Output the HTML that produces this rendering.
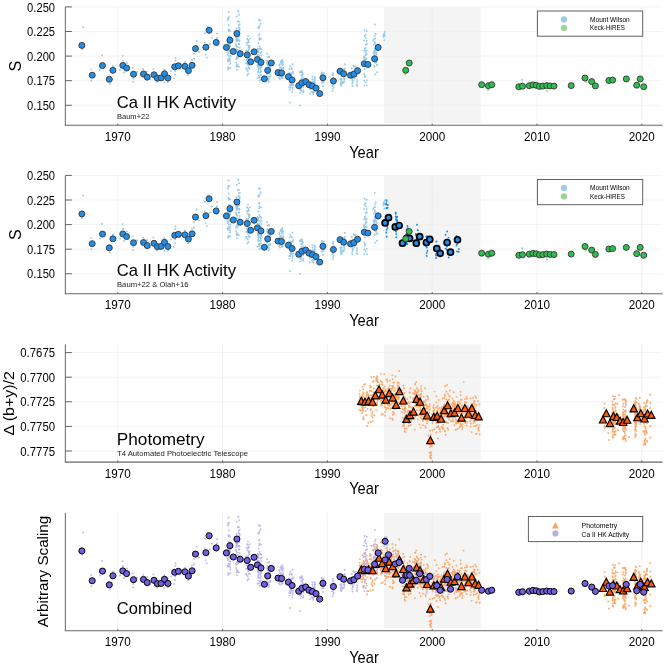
<!DOCTYPE html>
<html><head><meta charset="utf-8"><style>
html,body{margin:0;padding:0;background:#fff;width:665px;height:666px;overflow:hidden}
svg{display:block;filter:blur(0.3px)}
</style></head><body>
<svg width="665" height="666" viewBox="0 0 665 666" font-family='"Liberation Sans", sans-serif' fill="#000"><rect width="665" height="666" fill="#fff"/><rect x="384.0" y="7.10" width="96.70" height="115.90" fill="#f4f4f4"/><line x1="117.80" y1="6.90" x2="117.80" y2="125.30" stroke="#eeeeee" stroke-width="0.7"/><line x1="222.60" y1="6.90" x2="222.60" y2="125.30" stroke="#eeeeee" stroke-width="0.7"/><line x1="327.40" y1="6.90" x2="327.40" y2="125.30" stroke="#eeeeee" stroke-width="0.7"/><line x1="432.20" y1="6.90" x2="432.20" y2="125.30" stroke="#eeeeee" stroke-width="0.7"/><line x1="537.00" y1="6.90" x2="537.00" y2="125.30" stroke="#eeeeee" stroke-width="0.7"/><line x1="641.80" y1="6.90" x2="641.80" y2="125.30" stroke="#eeeeee" stroke-width="0.7"/><line x1="65.40" y1="6.90" x2="662.60" y2="6.90" stroke="#eeeeee" stroke-width="0.7"/><line x1="65.40" y1="31.50" x2="662.60" y2="31.50" stroke="#eeeeee" stroke-width="0.7"/><line x1="65.40" y1="56.10" x2="662.60" y2="56.10" stroke="#eeeeee" stroke-width="0.7"/><line x1="65.40" y1="80.70" x2="662.60" y2="80.70" stroke="#eeeeee" stroke-width="0.7"/><line x1="65.40" y1="105.30" x2="662.60" y2="105.30" stroke="#eeeeee" stroke-width="0.7"/><path d="M83.2 27.0h0M82.1 49.3h0M102.0 55.3h0M91.3 69.6h0M91.3 80.8h0M122.6 55.7h0M123.0 60.5h0M124.0 72.5h0M132.6 67.9h0M133.2 78.4h0M133.2 81.6h0M143.2 69.2h0M147.0 71.5h0M153.4 68.9h0M164.2 69.8h0M164.2 82.5h0M175.5 57.9h0M175.5 60.5h0M175.1 71.0h0M175.1 74.7h0M174.0 78.4h0M194.2 59.0h0M196.7 41.0h0M194.0 53.5h0M194.0 58.7h0M204.9 33.2h0M207.9 26.8h0M204.7 42.6h0M205.7 54.6h0M206.8 57.6h0M217.0 33.5h0M217.0 38.0h0M217.0 45.6h0M185.0 62.0h0M188.0 75.0h0M110.0 84.0h0M113.0 66.0h0M127.0 63.0h0M147.0 80.0h0M157.0 82.0h0M168.0 82.0h0M100.0 70.0h0M120.0 70.0h0M137.0 72.0h0M150.0 79.0h0M171.0 71.0h0M180.0 69.0h0M192.0 60.0h0M199.0 52.0h0M212.0 38.0h0M210.0 44.0h0M228.6 17.5h0M229.1 17.4h0M227.9 20.1h0M228.0 18.5h0M228.8 29.7h0M228.2 67.6h0M229.2 49.3h0M230.1 46.6h0M227.9 41.9h0M228.0 53.4h0M228.6 60.2h0M227.7 50.2h0M228.8 58.1h0M229.3 42.8h0M229.6 60.0h0M229.2 55.8h0M228.4 29.4h0M228.8 31.0h0M229.0 38.2h0M229.5 50.4h0M230.1 43.5h0M229.2 37.3h0M230.0 45.8h0M229.5 43.7h0M230.5 37.1h0M228.7 25.0h0M228.9 36.4h0M227.9 47.5h0M228.2 43.0h0M230.1 37.8h0M230.2 63.7h0M228.3 50.0h0M228.6 68.1h0M228.0 47.6h0M229.0 36.1h0M227.5 52.6h0M228.6 67.8h0M229.6 38.5h0M227.7 59.9h0M230.1 42.0h0M228.7 39.2h0M229.4 51.8h0M228.0 49.2h0M227.7 49.1h0M228.6 49.9h0M230.1 30.8h0M228.3 44.4h0M230.0 45.4h0M229.0 50.0h0M227.8 45.7h0M228.0 61.3h0M230.4 52.8h0M227.6 54.6h0M230.4 56.0h0M228.3 53.6h0M229.1 39.2h0M228.2 69.3h0M230.1 61.6h0M229.7 58.4h0M229.1 48.8h0M228.3 47.3h0M229.6 44.6h0M230.3 67.9h0M228.6 47.7h0M236.7 16.4h0M239.0 14.7h0M238.4 11.5h0M238.5 50.6h0M238.9 44.0h0M237.0 58.8h0M237.3 49.9h0M239.8 24.3h0M236.1 49.2h0M236.2 59.2h0M238.5 31.2h0M238.0 57.5h0M238.4 40.2h0M239.7 47.8h0M236.4 28.8h0M236.8 33.7h0M237.4 35.6h0M239.6 29.3h0M239.6 41.0h0M239.6 29.9h0M235.6 36.8h0M236.3 39.8h0M237.6 40.9h0M237.0 34.3h0M238.0 21.6h0M238.0 36.4h0M237.8 49.7h0M239.6 50.7h0M238.3 27.5h0M237.5 37.7h0M237.7 47.1h0M239.4 28.2h0M238.0 53.1h0M236.1 35.9h0M236.6 39.5h0M238.5 55.6h0M236.2 45.4h0M236.1 58.6h0M236.5 34.1h0M237.7 52.8h0M236.2 32.0h0M236.4 37.9h0M238.7 31.2h0M235.6 35.9h0M238.3 57.6h0M239.0 21.5h0M236.7 46.7h0M239.0 43.7h0M239.6 28.1h0M236.2 41.5h0M238.7 44.0h0M235.8 35.3h0M235.8 44.3h0M239.1 40.1h0M239.4 36.4h0M237.0 56.8h0M236.7 33.3h0M236.0 37.6h0M235.7 36.2h0M238.9 44.2h0M237.8 37.7h0M236.6 39.6h0M238.8 25.1h0M237.6 21.6h0M239.2 24.9h0M237.3 38.9h0M238.6 31.7h0M239.2 44.3h0M237.4 65.8h0M236.2 62.6h0M236.6 65.3h0M238.9 66.7h0M237.0 64.5h0M236.6 66.8h0M236.9 69.7h0M237.9 66.4h0M247.4 54.0h0M247.5 51.2h0M248.0 54.9h0M247.1 53.7h0M246.1 56.0h0M246.9 56.0h0M249.0 62.3h0M249.5 47.5h0M246.6 59.9h0M246.2 68.3h0M248.5 65.6h0M246.6 69.5h0M248.0 65.4h0M249.3 68.4h0M248.7 45.8h0M246.1 53.3h0M249.3 59.3h0M248.5 54.6h0M246.0 63.4h0M248.0 57.0h0M248.6 54.6h0M246.3 50.7h0M248.9 54.0h0M248.0 39.6h0M247.9 64.1h0M248.5 40.6h0M246.6 54.8h0M248.3 50.2h0M246.2 50.9h0M248.7 47.3h0M248.1 52.2h0M249.6 55.6h0M249.9 38.6h0M247.8 70.9h0M247.8 58.4h0M246.8 42.8h0M248.1 42.5h0M249.3 68.2h0M249.5 45.9h0M249.6 55.5h0M248.0 55.1h0M247.2 52.3h0M249.4 59.1h0M249.0 42.1h0M249.7 68.7h0M247.2 38.8h0M248.4 67.9h0M247.7 57.5h0M249.3 55.8h0M249.7 54.3h0M247.1 63.3h0M249.4 68.1h0M248.4 73.5h0M248.1 36.1h0M248.7 55.2h0M247.4 44.9h0M249.3 48.7h0M247.4 75.0h0M258.8 19.8h0M259.7 25.7h0M258.5 27.5h0M259.5 34.1h0M260.7 23.7h0M258.4 28.3h0M258.3 27.1h0M258.8 35.1h0M260.2 20.5h0M259.1 27.7h0M257.7 64.3h0M259.5 76.8h0M258.3 59.7h0M258.4 43.0h0M261.0 39.0h0M257.5 78.3h0M259.4 38.0h0M259.0 75.2h0M261.0 49.2h0M257.9 66.7h0M259.6 80.4h0M260.4 72.4h0M259.3 39.8h0M260.7 70.0h0M258.7 55.3h0M258.5 69.4h0M257.9 50.7h0M259.0 59.0h0M259.9 57.8h0M261.4 77.8h0M259.4 68.4h0M258.4 69.7h0M258.7 49.3h0M259.2 60.6h0M260.2 48.2h0M257.5 50.5h0M258.2 71.3h0M259.5 65.9h0M261.5 62.8h0M258.3 51.3h0M261.4 55.6h0M258.2 50.9h0M261.4 66.0h0M259.1 64.6h0M257.6 59.8h0M259.1 77.8h0M260.5 79.9h0M258.8 71.9h0M257.5 55.0h0M259.0 55.6h0M258.1 59.2h0M261.4 67.4h0M261.4 51.9h0M260.9 71.4h0M257.6 48.8h0M258.2 72.6h0M261.2 48.9h0M260.6 67.8h0M257.5 65.6h0M260.5 53.3h0M258.5 65.8h0M258.5 52.2h0M258.6 57.7h0M260.6 66.5h0M261.4 61.4h0M261.4 55.4h0M258.5 69.0h0M259.5 46.2h0M260.8 75.0h0M260.6 52.8h0M258.7 61.1h0M258.2 49.1h0M257.7 57.5h0M259.7 75.9h0M261.5 58.6h0M257.8 48.7h0M259.3 60.6h0M259.2 68.3h0M260.5 67.9h0M257.9 51.2h0M269.0 65.7h0M267.9 62.5h0M267.6 68.5h0M268.2 72.3h0M267.8 70.9h0M270.6 65.7h0M268.7 76.9h0M270.3 65.3h0M267.7 68.7h0M270.3 68.6h0M270.1 65.4h0M270.4 75.2h0M269.1 57.0h0M268.3 67.2h0M269.2 56.5h0M267.0 69.9h0M269.4 64.6h0M269.9 69.3h0M267.2 60.7h0M269.3 70.1h0M267.6 63.1h0M268.0 70.4h0M269.0 64.7h0M268.5 81.9h0M268.3 65.5h0M267.0 63.6h0M270.0 62.4h0M270.2 66.5h0M269.0 79.1h0M267.3 61.9h0M268.8 66.8h0M268.0 68.3h0M268.8 80.9h0M267.7 64.8h0M270.4 65.4h0M267.2 62.4h0M270.3 76.4h0M267.6 57.1h0M268.5 76.5h0M267.7 60.8h0M268.4 69.8h0M267.9 78.7h0M267.1 74.2h0M267.1 53.8h0M269.2 70.1h0M280.3 67.4h0M281.8 69.1h0M280.8 67.7h0M280.0 79.1h0M280.9 68.0h0M281.0 74.8h0M279.4 74.9h0M281.1 70.3h0M282.1 71.8h0M279.2 70.1h0M280.6 61.7h0M282.6 77.8h0M282.4 76.7h0M283.0 62.5h0M282.3 59.8h0M280.5 62.3h0M282.8 70.9h0M282.4 61.4h0M279.9 71.4h0M281.1 74.3h0M279.7 76.4h0M282.8 72.2h0M282.3 65.2h0M280.5 73.0h0M281.4 60.8h0M283.2 68.6h0M282.4 70.3h0M283.2 67.7h0M282.2 74.8h0M279.2 64.8h0M281.7 73.8h0M281.8 78.2h0M279.0 75.2h0M280.8 76.5h0M282.8 72.4h0M279.1 78.0h0M280.5 69.5h0M281.5 63.5h0M281.6 74.0h0M279.6 64.6h0M279.6 65.6h0M282.3 64.5h0M280.1 68.0h0M280.5 70.0h0M282.9 64.7h0M293.1 73.4h0M291.5 78.4h0M292.6 79.9h0M291.6 68.1h0M290.1 78.4h0M292.0 69.0h0M290.6 87.8h0M292.6 64.2h0M292.8 77.3h0M292.4 81.2h0M290.2 78.4h0M290.7 83.8h0M292.9 71.6h0M291.6 79.6h0M292.6 77.6h0M293.4 85.0h0M293.0 78.0h0M292.4 85.3h0M290.7 73.4h0M290.3 82.0h0M292.2 91.9h0M291.3 83.9h0M292.9 81.7h0M292.3 72.8h0M290.2 66.2h0M293.1 80.5h0M293.2 78.6h0M289.9 85.3h0M292.0 85.0h0M289.6 74.4h0M292.7 89.4h0M289.6 90.1h0M293.3 80.1h0M290.2 87.3h0M292.7 87.5h0M292.0 80.2h0M289.7 78.4h0M290.6 75.0h0M289.4 76.7h0M290.8 85.6h0M293.3 82.2h0M289.4 73.0h0M291.1 73.9h0M292.3 80.2h0M289.7 68.9h0M289.3 87.5h0M292.5 64.1h0M291.4 79.1h0M291.4 75.3h0M292.8 81.9h0M300.5 82.9h0M300.0 71.8h0M303.3 90.5h0M302.5 81.7h0M301.4 84.3h0M303.8 81.7h0M300.5 87.1h0M301.3 75.9h0M301.7 79.9h0M303.1 86.8h0M301.2 87.6h0M302.7 74.2h0M301.6 85.0h0M300.1 89.9h0M303.7 84.2h0M302.9 73.8h0M300.2 86.4h0M301.1 85.0h0M300.4 88.9h0M300.0 72.4h0M301.3 90.7h0M303.0 86.2h0M300.4 72.5h0M300.5 87.2h0M303.3 82.9h0M302.5 83.8h0M300.2 80.4h0M303.1 81.1h0M302.3 80.8h0M300.6 92.9h0M303.2 92.2h0M302.8 81.7h0M301.0 72.3h0M301.5 88.5h0M302.5 78.6h0M302.5 85.1h0M302.7 74.5h0M302.6 80.0h0M301.9 70.7h0M302.1 85.0h0M302.0 72.7h0M302.3 81.8h0M302.6 83.5h0M301.5 75.2h0M302.8 77.7h0M303.2 87.0h0M299.8 82.5h0M301.4 78.9h0M302.9 85.2h0M300.8 82.3h0M302.0 72.5h0M303.3 83.4h0M303.2 86.4h0M301.8 75.7h0M304.1 85.1h0M313.1 92.4h0M312.2 84.2h0M314.2 85.4h0M314.3 84.0h0M312.0 87.7h0M309.7 81.4h0M311.0 82.3h0M313.1 83.1h0M314.7 76.9h0M314.2 91.7h0M310.5 88.6h0M309.8 86.4h0M314.8 80.8h0M310.2 86.5h0M311.6 91.8h0M314.6 79.1h0M314.5 91.6h0M313.3 91.8h0M314.2 84.4h0M313.7 82.0h0M314.5 81.1h0M311.0 84.7h0M312.2 86.0h0M312.4 79.3h0M309.7 85.2h0M312.7 92.8h0M311.7 84.2h0M314.9 82.7h0M309.9 89.6h0M314.7 82.2h0M315.0 78.7h0M309.9 88.5h0M311.5 83.2h0M312.3 86.6h0M313.9 82.6h0M312.7 81.7h0M314.2 87.3h0M312.4 76.7h0M313.2 82.5h0M311.4 85.5h0M312.9 91.7h0M309.9 93.8h0M312.6 85.8h0M310.7 88.1h0M313.3 94.3h0M323.3 81.6h0M323.5 82.4h0M322.2 78.9h0M323.7 79.8h0M322.1 80.5h0M323.4 73.7h0M323.9 80.5h0M322.3 77.5h0M322.8 86.4h0M321.8 72.2h0M321.9 80.7h0M324.2 80.6h0M321.6 74.3h0M324.3 76.1h0M322.8 78.4h0M322.0 78.1h0M321.6 73.5h0M324.3 80.5h0M321.6 75.5h0M323.7 78.5h0M321.7 82.9h0M324.0 72.9h0M333.1 81.0h0M333.7 87.1h0M332.0 80.6h0M333.2 73.2h0M332.6 75.0h0M333.5 84.8h0M333.0 83.0h0M333.2 82.7h0M333.2 80.1h0M332.7 90.9h0M333.4 77.6h0M332.1 85.9h0M333.5 78.7h0M333.1 88.6h0M333.1 75.4h0M332.7 83.9h0M344.5 69.9h0M340.4 79.0h0M342.3 83.0h0M344.5 79.0h0M344.4 69.7h0M344.3 79.8h0M344.6 68.8h0M340.8 82.5h0M341.3 85.8h0M341.5 79.6h0M342.5 75.0h0M344.0 82.1h0M340.8 81.9h0M341.5 85.0h0M344.5 69.9h0M341.3 76.0h0M341.2 71.9h0M343.0 72.9h0M340.6 72.2h0M340.9 82.3h0M341.1 71.5h0M342.8 75.0h0M340.6 84.2h0M342.6 69.4h0M344.0 81.8h0M344.2 69.2h0M340.6 73.0h0M341.2 80.2h0M344.4 76.9h0M344.8 64.6h0M343.2 82.8h0M341.6 78.7h0M344.8 72.6h0M342.5 82.3h0M344.8 68.4h0M340.6 70.0h0M344.6 64.2h0M344.0 78.8h0M357.1 82.3h0M352.4 86.0h0M355.4 69.5h0M352.2 71.5h0M353.0 72.8h0M352.9 75.5h0M355.4 74.7h0M351.8 68.4h0M356.8 84.8h0M352.4 72.6h0M352.1 83.6h0M355.1 71.2h0M354.3 66.5h0M352.8 81.7h0M355.6 66.5h0M356.5 73.2h0M353.1 71.2h0M352.5 76.5h0M353.4 65.8h0M357.1 80.0h0M352.8 71.5h0M353.2 76.4h0M357.1 85.7h0M352.1 79.0h0M356.6 74.7h0M357.1 71.9h0M356.1 75.4h0M356.3 75.4h0M352.6 77.7h0M354.8 73.7h0M352.6 80.4h0M352.7 80.0h0M354.4 78.2h0M352.8 80.3h0M356.1 68.0h0M352.0 73.0h0M355.6 76.6h0M356.3 75.1h0M363.9 57.5h0M366.7 50.4h0M364.4 50.9h0M364.3 58.1h0M365.5 58.4h0M365.5 54.8h0M366.7 40.7h0M366.1 59.0h0M366.7 58.6h0M365.5 55.3h0M365.6 66.0h0M364.4 57.5h0M364.6 30.3h0M364.1 40.4h0M363.9 63.6h0M365.5 34.8h0M366.7 31.3h0M364.2 50.7h0M364.2 58.9h0M364.3 80.9h0M364.3 74.0h0M364.3 85.6h0M365.1 65.6h0M365.1 75.8h0M364.9 48.5h0M364.9 77.2h0M366.8 80.1h0M364.0 56.8h0M367.0 43.7h0M365.2 50.7h0M365.6 48.0h0M363.9 63.9h0M367.0 85.6h0M365.9 82.4h0M366.7 53.9h0M366.0 52.8h0M365.6 66.3h0M364.6 36.2h0M364.7 69.0h0M365.9 37.9h0M365.5 44.8h0M365.3 62.1h0M364.2 63.1h0M365.1 59.1h0M365.6 65.6h0M375.7 34.0h0M376.4 52.7h0M375.6 47.5h0M374.5 50.9h0M374.8 24.4h0M374.7 35.9h0M375.7 59.0h0M374.4 38.8h0M376.7 64.7h0M375.1 56.1h0M374.9 48.7h0M374.1 61.2h0M373.7 45.1h0M374.7 55.0h0M377.1 50.0h0M376.5 62.2h0M375.3 59.7h0M377.4 49.6h0M376.7 49.0h0M377.6 44.9h0M376.8 54.5h0M374.8 48.5h0M375.2 38.6h0M374.9 43.3h0M374.5 66.8h0M375.4 52.0h0M373.7 53.2h0M373.4 40.2h0M377.0 72.3h0M374.0 55.7h0M377.4 59.5h0M375.4 62.9h0M375.6 50.0h0M375.5 43.5h0M374.7 41.6h0M377.5 50.4h0M373.5 52.3h0M374.9 52.8h0M377.2 48.4h0M375.1 74.2h0M374.6 51.2h0M374.5 65.6h0M375.5 44.4h0M377.3 65.3h0M377.8 45.1h0M383.5 34.7h0M383.6 36.7h0M384.2 35.3h0M384.8 31.8h0M383.9 34.7h0M384.3 35.7h0M384.2 33.5h0M384.0 34.3h0M384.3 40.3h0M384.8 35.9h0M383.5 37.0h0M383.5 36.0h0M290.0 102.5h0M300.0 105.4h0M228.5 12.0h0M238.0 11.0h0" fill="none" stroke="#98caec" stroke-width="1.9" stroke-linecap="round"/><path d="M522.2 79.7h0M405.0 74.4h0M547.0 91.0h0M488.0 90.0h0M586.0 82.0h0" fill="none" stroke="#8fd68f" stroke-width="1.9" stroke-linecap="round"/><circle cx="81.90" cy="45.40" r="3.0" fill="#1f8fec" stroke="#3a3a3a" stroke-width="0.95"/><circle cx="92.20" cy="75.20" r="3.0" fill="#1f8fec" stroke="#3a3a3a" stroke-width="0.95"/><circle cx="102.50" cy="65.60" r="3.0" fill="#1f8fec" stroke="#3a3a3a" stroke-width="0.95"/><circle cx="109.30" cy="79.30" r="3.0" fill="#1f8fec" stroke="#3a3a3a" stroke-width="0.95"/><circle cx="112.90" cy="70.30" r="3.0" fill="#1f8fec" stroke="#3a3a3a" stroke-width="0.95"/><circle cx="122.80" cy="65.40" r="3.0" fill="#1f8fec" stroke="#3a3a3a" stroke-width="0.95"/><circle cx="126.60" cy="68.10" r="3.0" fill="#1f8fec" stroke="#3a3a3a" stroke-width="0.95"/><circle cx="133.50" cy="74.20" r="3.0" fill="#1f8fec" stroke="#3a3a3a" stroke-width="0.95"/><circle cx="143.50" cy="74.00" r="3.0" fill="#1f8fec" stroke="#3a3a3a" stroke-width="0.95"/><circle cx="147.20" cy="77.10" r="3.0" fill="#1f8fec" stroke="#3a3a3a" stroke-width="0.95"/><circle cx="154.00" cy="74.80" r="3.0" fill="#1f8fec" stroke="#3a3a3a" stroke-width="0.95"/><circle cx="157.40" cy="78.20" r="3.0" fill="#1f8fec" stroke="#3a3a3a" stroke-width="0.95"/><circle cx="161.10" cy="77.90" r="3.0" fill="#1f8fec" stroke="#3a3a3a" stroke-width="0.95"/><circle cx="164.50" cy="73.80" r="3.0" fill="#1f8fec" stroke="#3a3a3a" stroke-width="0.95"/><circle cx="167.90" cy="78.00" r="3.0" fill="#1f8fec" stroke="#3a3a3a" stroke-width="0.95"/><circle cx="174.70" cy="66.80" r="3.0" fill="#1f8fec" stroke="#3a3a3a" stroke-width="0.95"/><circle cx="178.40" cy="65.80" r="3.0" fill="#1f8fec" stroke="#3a3a3a" stroke-width="0.95"/><circle cx="184.90" cy="66.30" r="3.0" fill="#1f8fec" stroke="#3a3a3a" stroke-width="0.95"/><circle cx="188.40" cy="70.60" r="3.0" fill="#1f8fec" stroke="#3a3a3a" stroke-width="0.95"/><circle cx="192.10" cy="65.30" r="3.0" fill="#1f8fec" stroke="#3a3a3a" stroke-width="0.95"/><circle cx="195.50" cy="48.60" r="3.0" fill="#1f8fec" stroke="#3a3a3a" stroke-width="0.95"/><circle cx="205.90" cy="47.20" r="3.0" fill="#1f8fec" stroke="#3a3a3a" stroke-width="0.95"/><circle cx="209.10" cy="30.30" r="3.0" fill="#1f8fec" stroke="#3a3a3a" stroke-width="0.95"/><circle cx="216.20" cy="42.40" r="3.0" fill="#1f8fec" stroke="#3a3a3a" stroke-width="0.95"/><circle cx="226.40" cy="47.40" r="3.0" fill="#1f8fec" stroke="#3a3a3a" stroke-width="0.95"/><circle cx="229.90" cy="40.20" r="3.0" fill="#1f8fec" stroke="#3a3a3a" stroke-width="0.95"/><circle cx="236.90" cy="33.50" r="3.0" fill="#1f8fec" stroke="#3a3a3a" stroke-width="0.95"/><circle cx="233.30" cy="51.50" r="3.0" fill="#1f8fec" stroke="#3a3a3a" stroke-width="0.95"/><circle cx="240.20" cy="53.70" r="3.0" fill="#1f8fec" stroke="#3a3a3a" stroke-width="0.95"/><circle cx="247.20" cy="55.00" r="3.0" fill="#1f8fec" stroke="#3a3a3a" stroke-width="0.95"/><circle cx="250.70" cy="61.80" r="3.0" fill="#1f8fec" stroke="#3a3a3a" stroke-width="0.95"/><circle cx="254.10" cy="51.80" r="3.0" fill="#1f8fec" stroke="#3a3a3a" stroke-width="0.95"/><circle cx="257.40" cy="59.40" r="3.0" fill="#1f8fec" stroke="#3a3a3a" stroke-width="0.95"/><circle cx="261.00" cy="62.40" r="3.0" fill="#1f8fec" stroke="#3a3a3a" stroke-width="0.95"/><circle cx="264.40" cy="78.80" r="3.0" fill="#1f8fec" stroke="#3a3a3a" stroke-width="0.95"/><circle cx="267.70" cy="70.40" r="3.0" fill="#1f8fec" stroke="#3a3a3a" stroke-width="0.95"/><circle cx="271.30" cy="62.90" r="3.0" fill="#1f8fec" stroke="#3a3a3a" stroke-width="0.95"/><circle cx="278.00" cy="72.60" r="3.0" fill="#1f8fec" stroke="#3a3a3a" stroke-width="0.95"/><circle cx="281.60" cy="73.00" r="3.0" fill="#1f8fec" stroke="#3a3a3a" stroke-width="0.95"/><circle cx="288.40" cy="76.70" r="3.0" fill="#1f8fec" stroke="#3a3a3a" stroke-width="0.95"/><circle cx="292.10" cy="80.00" r="3.0" fill="#1f8fec" stroke="#3a3a3a" stroke-width="0.95"/><circle cx="298.70" cy="85.70" r="3.0" fill="#1f8fec" stroke="#3a3a3a" stroke-width="0.95"/><circle cx="301.90" cy="82.90" r="3.0" fill="#1f8fec" stroke="#3a3a3a" stroke-width="0.95"/><circle cx="305.70" cy="81.50" r="3.0" fill="#1f8fec" stroke="#3a3a3a" stroke-width="0.95"/><circle cx="309.00" cy="84.70" r="3.0" fill="#1f8fec" stroke="#3a3a3a" stroke-width="0.95"/><circle cx="312.40" cy="86.10" r="3.0" fill="#1f8fec" stroke="#3a3a3a" stroke-width="0.95"/><circle cx="316.00" cy="88.10" r="3.0" fill="#1f8fec" stroke="#3a3a3a" stroke-width="0.95"/><circle cx="319.70" cy="93.60" r="3.0" fill="#1f8fec" stroke="#3a3a3a" stroke-width="0.95"/><circle cx="322.90" cy="77.80" r="3.0" fill="#1f8fec" stroke="#3a3a3a" stroke-width="0.95"/><circle cx="333.40" cy="81.00" r="3.0" fill="#1f8fec" stroke="#3a3a3a" stroke-width="0.95"/><circle cx="340.00" cy="71.20" r="3.0" fill="#1f8fec" stroke="#3a3a3a" stroke-width="0.95"/><circle cx="343.70" cy="73.70" r="3.0" fill="#1f8fec" stroke="#3a3a3a" stroke-width="0.95"/><circle cx="350.50" cy="75.30" r="3.0" fill="#1f8fec" stroke="#3a3a3a" stroke-width="0.95"/><circle cx="353.90" cy="74.20" r="3.0" fill="#1f8fec" stroke="#3a3a3a" stroke-width="0.95"/><circle cx="357.60" cy="70.70" r="3.0" fill="#1f8fec" stroke="#3a3a3a" stroke-width="0.95"/><circle cx="364.30" cy="63.70" r="3.0" fill="#1f8fec" stroke="#3a3a3a" stroke-width="0.95"/><circle cx="367.90" cy="64.50" r="3.0" fill="#1f8fec" stroke="#3a3a3a" stroke-width="0.95"/><circle cx="374.60" cy="58.80" r="3.0" fill="#1f8fec" stroke="#3a3a3a" stroke-width="0.95"/><circle cx="378.20" cy="47.40" r="3.0" fill="#1f8fec" stroke="#3a3a3a" stroke-width="0.95"/><circle cx="405.70" cy="70.30" r="3.0" fill="#2ebd4f" stroke="#3a3a3a" stroke-width="0.95"/><circle cx="409.20" cy="63.00" r="3.0" fill="#2ebd4f" stroke="#3a3a3a" stroke-width="0.95"/><circle cx="481.70" cy="84.70" r="3.0" fill="#2ebd4f" stroke="#3a3a3a" stroke-width="0.95"/><circle cx="488.40" cy="85.70" r="3.0" fill="#2ebd4f" stroke="#3a3a3a" stroke-width="0.95"/><circle cx="491.80" cy="84.70" r="3.0" fill="#2ebd4f" stroke="#3a3a3a" stroke-width="0.95"/><circle cx="518.80" cy="86.80" r="3.0" fill="#2ebd4f" stroke="#3a3a3a" stroke-width="0.95"/><circle cx="522.50" cy="86.20" r="3.0" fill="#2ebd4f" stroke="#3a3a3a" stroke-width="0.95"/><circle cx="529.30" cy="85.70" r="3.0" fill="#2ebd4f" stroke="#3a3a3a" stroke-width="0.95"/><circle cx="532.90" cy="84.90" r="3.0" fill="#2ebd4f" stroke="#3a3a3a" stroke-width="0.95"/><circle cx="536.20" cy="85.30" r="3.0" fill="#2ebd4f" stroke="#3a3a3a" stroke-width="0.95"/><circle cx="539.40" cy="86.40" r="3.0" fill="#2ebd4f" stroke="#3a3a3a" stroke-width="0.95"/><circle cx="542.80" cy="86.10" r="3.0" fill="#2ebd4f" stroke="#3a3a3a" stroke-width="0.95"/><circle cx="546.70" cy="85.60" r="3.0" fill="#2ebd4f" stroke="#3a3a3a" stroke-width="0.95"/><circle cx="550.20" cy="85.90" r="3.0" fill="#2ebd4f" stroke="#3a3a3a" stroke-width="0.95"/><circle cx="554.00" cy="86.10" r="3.0" fill="#2ebd4f" stroke="#3a3a3a" stroke-width="0.95"/><circle cx="571.20" cy="85.60" r="3.0" fill="#2ebd4f" stroke="#3a3a3a" stroke-width="0.95"/><circle cx="585.00" cy="78.00" r="3.0" fill="#2ebd4f" stroke="#3a3a3a" stroke-width="0.95"/><circle cx="591.70" cy="81.60" r="3.0" fill="#2ebd4f" stroke="#3a3a3a" stroke-width="0.95"/><circle cx="595.40" cy="85.90" r="3.0" fill="#2ebd4f" stroke="#3a3a3a" stroke-width="0.95"/><circle cx="608.90" cy="80.50" r="3.0" fill="#2ebd4f" stroke="#3a3a3a" stroke-width="0.95"/><circle cx="612.60" cy="80.10" r="3.0" fill="#2ebd4f" stroke="#3a3a3a" stroke-width="0.95"/><circle cx="626.30" cy="78.90" r="3.0" fill="#2ebd4f" stroke="#3a3a3a" stroke-width="0.95"/><circle cx="636.70" cy="85.20" r="3.0" fill="#2ebd4f" stroke="#3a3a3a" stroke-width="0.95"/><circle cx="640.20" cy="78.90" r="3.0" fill="#2ebd4f" stroke="#3a3a3a" stroke-width="0.95"/><circle cx="643.70" cy="86.70" r="3.0" fill="#2ebd4f" stroke="#3a3a3a" stroke-width="0.95"/><line x1="65.40" y1="6.90" x2="65.40" y2="125.30" stroke="#808080" stroke-width="1.2"/><line x1="64.80" y1="125.30" x2="662.60" y2="125.30" stroke="#666" stroke-width="1.1"/><line x1="117.80" y1="125.30" x2="117.80" y2="123.70" stroke="#555" stroke-width="0.9"/><text x="117.80" y="141.00" font-size="12.8" text-anchor="middle" textLength="26.0" lengthAdjust="spacingAndGlyphs">1970</text><line x1="222.60" y1="125.30" x2="222.60" y2="123.70" stroke="#555" stroke-width="0.9"/><text x="222.60" y="141.00" font-size="12.8" text-anchor="middle" textLength="26.0" lengthAdjust="spacingAndGlyphs">1980</text><line x1="327.40" y1="125.30" x2="327.40" y2="123.70" stroke="#555" stroke-width="0.9"/><text x="327.40" y="141.00" font-size="12.8" text-anchor="middle" textLength="26.0" lengthAdjust="spacingAndGlyphs">1990</text><line x1="432.20" y1="125.30" x2="432.20" y2="123.70" stroke="#555" stroke-width="0.9"/><text x="432.20" y="141.00" font-size="12.8" text-anchor="middle" textLength="26.0" lengthAdjust="spacingAndGlyphs">2000</text><line x1="537.00" y1="125.30" x2="537.00" y2="123.70" stroke="#555" stroke-width="0.9"/><text x="537.00" y="141.00" font-size="12.8" text-anchor="middle" textLength="26.0" lengthAdjust="spacingAndGlyphs">2010</text><line x1="641.80" y1="125.30" x2="641.80" y2="123.70" stroke="#555" stroke-width="0.9"/><text x="641.80" y="141.00" font-size="12.8" text-anchor="middle" textLength="26.0" lengthAdjust="spacingAndGlyphs">2020</text><line x1="65.40" y1="6.90" x2="71.90" y2="6.90" stroke="#555" stroke-width="0.9"/><text x="55.10" y="11.50" font-size="12.8" text-anchor="end" textLength="28.0" lengthAdjust="spacingAndGlyphs">0.250</text><line x1="65.40" y1="31.50" x2="71.90" y2="31.50" stroke="#555" stroke-width="0.9"/><text x="55.10" y="36.10" font-size="12.8" text-anchor="end" textLength="28.0" lengthAdjust="spacingAndGlyphs">0.225</text><line x1="65.40" y1="56.10" x2="71.90" y2="56.10" stroke="#555" stroke-width="0.9"/><text x="55.10" y="60.70" font-size="12.8" text-anchor="end" textLength="28.0" lengthAdjust="spacingAndGlyphs">0.200</text><line x1="65.40" y1="80.70" x2="71.90" y2="80.70" stroke="#555" stroke-width="0.9"/><text x="55.10" y="85.30" font-size="12.8" text-anchor="end" textLength="28.0" lengthAdjust="spacingAndGlyphs">0.175</text><line x1="65.40" y1="105.30" x2="71.90" y2="105.30" stroke="#555" stroke-width="0.9"/><text x="55.10" y="109.90" font-size="12.8" text-anchor="end" textLength="28.0" lengthAdjust="spacingAndGlyphs">0.150</text><text x="364" y="157.50" font-size="15.9" text-anchor="middle" textLength="29.6" lengthAdjust="spacingAndGlyphs">Year</text><text x="116.8" y="107.80" font-size="17.0" textLength="119.2" lengthAdjust="spacingAndGlyphs">Ca II HK Activity</text><text x="117" y="118.60" font-size="7.1" fill="#222" textLength="32.4" lengthAdjust="spacingAndGlyphs">Baum+22</text><text x="0" y="0" font-size="16.2" text-anchor="middle" transform="translate(20.8 66.10) rotate(-90)">S</text><rect x="537.4" y="11.00" width="105.3" height="25.2" fill="#fff" stroke="#5a5a5a" stroke-width="0.95"/><circle cx="563.90" cy="19.40" r="3.1" fill="#9ccbe6"/><circle cx="563.90" cy="27.90" r="3.1" fill="#98d694"/><text x="590.1" y="21.80" font-size="7.1" textLength="39.6" lengthAdjust="spacingAndGlyphs">Mount Wilson</text><text x="590.1" y="30.10" font-size="7.1" textLength="34.7" lengthAdjust="spacingAndGlyphs">Keck-HIRES</text><rect x="384.0" y="175.60" width="96.70" height="115.80" fill="#f4f4f4"/><line x1="117.80" y1="175.40" x2="117.80" y2="293.70" stroke="#eeeeee" stroke-width="0.7"/><line x1="222.60" y1="175.40" x2="222.60" y2="293.70" stroke="#eeeeee" stroke-width="0.7"/><line x1="327.40" y1="175.40" x2="327.40" y2="293.70" stroke="#eeeeee" stroke-width="0.7"/><line x1="432.20" y1="175.40" x2="432.20" y2="293.70" stroke="#eeeeee" stroke-width="0.7"/><line x1="537.00" y1="175.40" x2="537.00" y2="293.70" stroke="#eeeeee" stroke-width="0.7"/><line x1="641.80" y1="175.40" x2="641.80" y2="293.70" stroke="#eeeeee" stroke-width="0.7"/><line x1="65.40" y1="175.40" x2="662.60" y2="175.40" stroke="#eeeeee" stroke-width="0.7"/><line x1="65.40" y1="200.00" x2="662.60" y2="200.00" stroke="#eeeeee" stroke-width="0.7"/><line x1="65.40" y1="224.60" x2="662.60" y2="224.60" stroke="#eeeeee" stroke-width="0.7"/><line x1="65.40" y1="249.20" x2="662.60" y2="249.20" stroke="#eeeeee" stroke-width="0.7"/><line x1="65.40" y1="273.80" x2="662.60" y2="273.80" stroke="#eeeeee" stroke-width="0.7"/><path d="M83.2 195.5h0M82.1 217.8h0M102.0 223.8h0M91.3 238.1h0M91.3 249.3h0M122.6 224.2h0M123.0 229.0h0M124.0 241.0h0M132.6 236.4h0M133.2 246.9h0M133.2 250.1h0M143.2 237.7h0M147.0 240.0h0M153.4 237.4h0M164.2 238.3h0M164.2 251.0h0M175.5 226.4h0M175.5 229.0h0M175.1 239.5h0M175.1 243.2h0M174.0 246.9h0M194.2 227.5h0M196.7 209.5h0M194.0 222.0h0M194.0 227.2h0M204.9 201.7h0M207.9 195.3h0M204.7 211.1h0M205.7 223.1h0M206.8 226.1h0M217.0 202.0h0M217.0 206.5h0M217.0 214.1h0M185.0 230.5h0M188.0 243.5h0M110.0 252.5h0M113.0 234.5h0M127.0 231.5h0M147.0 248.5h0M157.0 250.5h0M168.0 250.5h0M100.0 238.5h0M120.0 238.5h0M137.0 240.5h0M150.0 247.5h0M171.0 239.5h0M180.0 237.5h0M192.0 228.5h0M199.0 220.5h0M212.0 206.5h0M210.0 212.5h0M228.6 186.0h0M229.1 185.9h0M227.9 188.6h0M228.0 187.0h0M228.8 198.2h0M228.2 236.1h0M229.2 217.8h0M230.1 215.1h0M227.9 210.4h0M228.0 221.9h0M228.6 228.7h0M227.7 218.7h0M228.8 226.6h0M229.3 211.3h0M229.6 228.5h0M229.2 224.3h0M228.4 197.9h0M228.8 199.5h0M229.0 206.7h0M229.5 218.9h0M230.1 212.0h0M229.2 205.8h0M230.0 214.3h0M229.5 212.2h0M230.5 205.6h0M228.7 193.5h0M228.9 204.9h0M227.9 216.0h0M228.2 211.5h0M230.1 206.3h0M230.2 232.2h0M228.3 218.5h0M228.6 236.6h0M228.0 216.1h0M229.0 204.6h0M227.5 221.1h0M228.6 236.3h0M229.6 207.0h0M227.7 228.4h0M230.1 210.5h0M228.7 207.7h0M229.4 220.3h0M228.0 217.7h0M227.7 217.6h0M228.6 218.4h0M230.1 199.3h0M228.3 212.9h0M230.0 213.9h0M229.0 218.5h0M227.8 214.2h0M228.0 229.8h0M230.4 221.3h0M227.6 223.1h0M230.4 224.5h0M228.3 222.1h0M229.1 207.7h0M228.2 237.8h0M230.1 230.1h0M229.7 226.9h0M229.1 217.3h0M228.3 215.8h0M229.6 213.1h0M230.3 236.4h0M228.6 216.2h0M236.7 184.9h0M239.0 183.2h0M238.4 180.0h0M238.5 219.1h0M238.9 212.5h0M237.0 227.3h0M237.3 218.4h0M239.8 192.8h0M236.1 217.7h0M236.2 227.7h0M238.5 199.7h0M238.0 226.0h0M238.4 208.7h0M239.7 216.3h0M236.4 197.3h0M236.8 202.2h0M237.4 204.1h0M239.6 197.8h0M239.6 209.5h0M239.6 198.4h0M235.6 205.3h0M236.3 208.3h0M237.6 209.4h0M237.0 202.8h0M238.0 190.1h0M238.0 204.9h0M237.8 218.2h0M239.6 219.2h0M238.3 196.0h0M237.5 206.2h0M237.7 215.6h0M239.4 196.7h0M238.0 221.6h0M236.1 204.4h0M236.6 208.0h0M238.5 224.1h0M236.2 213.9h0M236.1 227.1h0M236.5 202.6h0M237.7 221.3h0M236.2 200.5h0M236.4 206.4h0M238.7 199.7h0M235.6 204.4h0M238.3 226.1h0M239.0 190.0h0M236.7 215.2h0M239.0 212.2h0M239.6 196.6h0M236.2 210.0h0M238.7 212.5h0M235.8 203.8h0M235.8 212.8h0M239.1 208.6h0M239.4 204.9h0M237.0 225.3h0M236.7 201.8h0M236.0 206.1h0M235.7 204.7h0M238.9 212.7h0M237.8 206.2h0M236.6 208.1h0M238.8 193.6h0M237.6 190.1h0M239.2 193.4h0M237.3 207.4h0M238.6 200.2h0M239.2 212.8h0M237.4 234.3h0M236.2 231.1h0M236.6 233.8h0M238.9 235.2h0M237.0 233.0h0M236.6 235.3h0M236.9 238.2h0M237.9 234.9h0M247.4 222.5h0M247.5 219.7h0M248.0 223.4h0M247.1 222.2h0M246.1 224.5h0M246.9 224.5h0M249.0 230.8h0M249.5 216.0h0M246.6 228.4h0M246.2 236.8h0M248.5 234.1h0M246.6 238.0h0M248.0 233.9h0M249.3 236.9h0M248.7 214.3h0M246.1 221.8h0M249.3 227.8h0M248.5 223.1h0M246.0 231.9h0M248.0 225.5h0M248.6 223.1h0M246.3 219.2h0M248.9 222.5h0M248.0 208.1h0M247.9 232.6h0M248.5 209.1h0M246.6 223.3h0M248.3 218.7h0M246.2 219.4h0M248.7 215.8h0M248.1 220.7h0M249.6 224.1h0M249.9 207.1h0M247.8 239.4h0M247.8 226.9h0M246.8 211.3h0M248.1 211.0h0M249.3 236.7h0M249.5 214.4h0M249.6 224.0h0M248.0 223.6h0M247.2 220.8h0M249.4 227.6h0M249.0 210.6h0M249.7 237.2h0M247.2 207.3h0M248.4 236.4h0M247.7 226.0h0M249.3 224.3h0M249.7 222.8h0M247.1 231.8h0M249.4 236.6h0M248.4 242.0h0M248.1 204.6h0M248.7 223.7h0M247.4 213.4h0M249.3 217.2h0M247.4 243.5h0M258.8 188.3h0M259.7 194.2h0M258.5 196.0h0M259.5 202.6h0M260.7 192.2h0M258.4 196.8h0M258.3 195.6h0M258.8 203.6h0M260.2 189.0h0M259.1 196.2h0M257.7 232.8h0M259.5 245.3h0M258.3 228.2h0M258.4 211.5h0M261.0 207.5h0M257.5 246.8h0M259.4 206.5h0M259.0 243.7h0M261.0 217.7h0M257.9 235.2h0M259.6 248.9h0M260.4 240.9h0M259.3 208.3h0M260.7 238.5h0M258.7 223.8h0M258.5 237.9h0M257.9 219.2h0M259.0 227.5h0M259.9 226.3h0M261.4 246.3h0M259.4 236.9h0M258.4 238.2h0M258.7 217.8h0M259.2 229.1h0M260.2 216.7h0M257.5 219.0h0M258.2 239.8h0M259.5 234.4h0M261.5 231.3h0M258.3 219.8h0M261.4 224.1h0M258.2 219.4h0M261.4 234.5h0M259.1 233.1h0M257.6 228.3h0M259.1 246.3h0M260.5 248.4h0M258.8 240.4h0M257.5 223.5h0M259.0 224.1h0M258.1 227.7h0M261.4 235.9h0M261.4 220.4h0M260.9 239.9h0M257.6 217.3h0M258.2 241.1h0M261.2 217.4h0M260.6 236.3h0M257.5 234.1h0M260.5 221.8h0M258.5 234.3h0M258.5 220.7h0M258.6 226.2h0M260.6 235.0h0M261.4 229.9h0M261.4 223.9h0M258.5 237.5h0M259.5 214.7h0M260.8 243.5h0M260.6 221.3h0M258.7 229.6h0M258.2 217.6h0M257.7 226.0h0M259.7 244.4h0M261.5 227.1h0M257.8 217.2h0M259.3 229.1h0M259.2 236.8h0M260.5 236.4h0M257.9 219.7h0M269.0 234.2h0M267.9 231.0h0M267.6 237.0h0M268.2 240.8h0M267.8 239.4h0M270.6 234.2h0M268.7 245.4h0M270.3 233.8h0M267.7 237.2h0M270.3 237.1h0M270.1 233.9h0M270.4 243.7h0M269.1 225.5h0M268.3 235.7h0M269.2 225.0h0M267.0 238.4h0M269.4 233.1h0M269.9 237.8h0M267.2 229.2h0M269.3 238.6h0M267.6 231.6h0M268.0 238.9h0M269.0 233.2h0M268.5 250.4h0M268.3 234.0h0M267.0 232.1h0M270.0 230.9h0M270.2 235.0h0M269.0 247.6h0M267.3 230.4h0M268.8 235.3h0M268.0 236.8h0M268.8 249.4h0M267.7 233.3h0M270.4 233.9h0M267.2 230.9h0M270.3 244.9h0M267.6 225.6h0M268.5 245.0h0M267.7 229.3h0M268.4 238.3h0M267.9 247.2h0M267.1 242.7h0M267.1 222.3h0M269.2 238.6h0M280.3 235.9h0M281.8 237.6h0M280.8 236.2h0M280.0 247.6h0M280.9 236.5h0M281.0 243.3h0M279.4 243.4h0M281.1 238.8h0M282.1 240.3h0M279.2 238.6h0M280.6 230.2h0M282.6 246.3h0M282.4 245.2h0M283.0 231.0h0M282.3 228.3h0M280.5 230.8h0M282.8 239.4h0M282.4 229.9h0M279.9 239.9h0M281.1 242.8h0M279.7 244.9h0M282.8 240.7h0M282.3 233.7h0M280.5 241.5h0M281.4 229.3h0M283.2 237.1h0M282.4 238.8h0M283.2 236.2h0M282.2 243.3h0M279.2 233.3h0M281.7 242.3h0M281.8 246.7h0M279.0 243.7h0M280.8 245.0h0M282.8 240.9h0M279.1 246.5h0M280.5 238.0h0M281.5 232.0h0M281.6 242.5h0M279.6 233.1h0M279.6 234.1h0M282.3 233.0h0M280.1 236.5h0M280.5 238.5h0M282.9 233.2h0M293.1 241.9h0M291.5 246.9h0M292.6 248.4h0M291.6 236.6h0M290.1 246.9h0M292.0 237.5h0M290.6 256.3h0M292.6 232.7h0M292.8 245.8h0M292.4 249.7h0M290.2 246.9h0M290.7 252.3h0M292.9 240.1h0M291.6 248.1h0M292.6 246.1h0M293.4 253.5h0M293.0 246.5h0M292.4 253.8h0M290.7 241.9h0M290.3 250.5h0M292.2 260.4h0M291.3 252.4h0M292.9 250.2h0M292.3 241.3h0M290.2 234.7h0M293.1 249.0h0M293.2 247.1h0M289.9 253.8h0M292.0 253.5h0M289.6 242.9h0M292.7 257.9h0M289.6 258.6h0M293.3 248.6h0M290.2 255.8h0M292.7 256.0h0M292.0 248.7h0M289.7 246.9h0M290.6 243.5h0M289.4 245.2h0M290.8 254.1h0M293.3 250.7h0M289.4 241.5h0M291.1 242.4h0M292.3 248.7h0M289.7 237.4h0M289.3 256.0h0M292.5 232.6h0M291.4 247.6h0M291.4 243.8h0M292.8 250.4h0M300.5 251.4h0M300.0 240.3h0M303.3 259.0h0M302.5 250.2h0M301.4 252.8h0M303.8 250.2h0M300.5 255.6h0M301.3 244.4h0M301.7 248.4h0M303.1 255.3h0M301.2 256.1h0M302.7 242.7h0M301.6 253.5h0M300.1 258.4h0M303.7 252.7h0M302.9 242.3h0M300.2 254.9h0M301.1 253.5h0M300.4 257.4h0M300.0 240.9h0M301.3 259.2h0M303.0 254.7h0M300.4 241.0h0M300.5 255.7h0M303.3 251.4h0M302.5 252.3h0M300.2 248.9h0M303.1 249.6h0M302.3 249.3h0M300.6 261.4h0M303.2 260.7h0M302.8 250.2h0M301.0 240.8h0M301.5 257.0h0M302.5 247.1h0M302.5 253.6h0M302.7 243.0h0M302.6 248.5h0M301.9 239.2h0M302.1 253.5h0M302.0 241.2h0M302.3 250.3h0M302.6 252.0h0M301.5 243.7h0M302.8 246.2h0M303.2 255.5h0M299.8 251.0h0M301.4 247.4h0M302.9 253.7h0M300.8 250.8h0M302.0 241.0h0M303.3 251.9h0M303.2 254.9h0M301.8 244.2h0M304.1 253.6h0M313.1 260.9h0M312.2 252.7h0M314.2 253.9h0M314.3 252.5h0M312.0 256.2h0M309.7 249.9h0M311.0 250.8h0M313.1 251.6h0M314.7 245.4h0M314.2 260.2h0M310.5 257.1h0M309.8 254.9h0M314.8 249.3h0M310.2 255.0h0M311.6 260.3h0M314.6 247.6h0M314.5 260.1h0M313.3 260.3h0M314.2 252.9h0M313.7 250.5h0M314.5 249.6h0M311.0 253.2h0M312.2 254.5h0M312.4 247.8h0M309.7 253.7h0M312.7 261.3h0M311.7 252.7h0M314.9 251.2h0M309.9 258.1h0M314.7 250.7h0M315.0 247.2h0M309.9 257.0h0M311.5 251.7h0M312.3 255.1h0M313.9 251.1h0M312.7 250.2h0M314.2 255.8h0M312.4 245.2h0M313.2 251.0h0M311.4 254.0h0M312.9 260.2h0M309.9 262.3h0M312.6 254.3h0M310.7 256.6h0M313.3 262.8h0M323.3 250.1h0M323.5 250.9h0M322.2 247.4h0M323.7 248.3h0M322.1 249.0h0M323.4 242.2h0M323.9 249.0h0M322.3 246.0h0M322.8 254.9h0M321.8 240.7h0M321.9 249.2h0M324.2 249.1h0M321.6 242.8h0M324.3 244.6h0M322.8 246.9h0M322.0 246.6h0M321.6 242.0h0M324.3 249.0h0M321.6 244.0h0M323.7 247.0h0M321.7 251.4h0M324.0 241.4h0M333.1 249.5h0M333.7 255.6h0M332.0 249.1h0M333.2 241.7h0M332.6 243.5h0M333.5 253.3h0M333.0 251.5h0M333.2 251.2h0M333.2 248.6h0M332.7 259.4h0M333.4 246.1h0M332.1 254.4h0M333.5 247.2h0M333.1 257.1h0M333.1 243.9h0M332.7 252.4h0M344.5 238.4h0M340.4 247.5h0M342.3 251.5h0M344.5 247.5h0M344.4 238.2h0M344.3 248.3h0M344.6 237.3h0M340.8 251.0h0M341.3 254.3h0M341.5 248.1h0M342.5 243.5h0M344.0 250.6h0M340.8 250.4h0M341.5 253.5h0M344.5 238.4h0M341.3 244.5h0M341.2 240.4h0M343.0 241.4h0M340.6 240.7h0M340.9 250.8h0M341.1 240.0h0M342.8 243.5h0M340.6 252.7h0M342.6 237.9h0M344.0 250.3h0M344.2 237.7h0M340.6 241.5h0M341.2 248.7h0M344.4 245.4h0M344.8 233.1h0M343.2 251.3h0M341.6 247.2h0M344.8 241.1h0M342.5 250.8h0M344.8 236.9h0M340.6 238.5h0M344.6 232.7h0M344.0 247.3h0M357.1 250.8h0M352.4 254.5h0M355.4 238.0h0M352.2 240.0h0M353.0 241.3h0M352.9 244.0h0M355.4 243.2h0M351.8 236.9h0M356.8 253.3h0M352.4 241.1h0M352.1 252.1h0M355.1 239.7h0M354.3 235.0h0M352.8 250.2h0M355.6 235.0h0M356.5 241.7h0M353.1 239.7h0M352.5 245.0h0M353.4 234.3h0M357.1 248.5h0M352.8 240.0h0M353.2 244.9h0M357.1 254.2h0M352.1 247.5h0M356.6 243.2h0M357.1 240.4h0M356.1 243.9h0M356.3 243.9h0M352.6 246.2h0M354.8 242.2h0M352.6 248.9h0M352.7 248.5h0M354.4 246.7h0M352.8 248.8h0M356.1 236.5h0M352.0 241.5h0M355.6 245.1h0M356.3 243.6h0M363.9 226.0h0M366.7 218.9h0M364.4 219.4h0M364.3 226.6h0M365.5 226.9h0M365.5 223.3h0M366.7 209.2h0M366.1 227.5h0M366.7 227.1h0M365.5 223.8h0M365.6 234.5h0M364.4 226.0h0M364.6 198.8h0M364.1 208.9h0M363.9 232.1h0M365.5 203.3h0M366.7 199.8h0M364.2 219.2h0M364.2 227.4h0M364.3 249.4h0M364.3 242.5h0M364.3 254.1h0M365.1 234.1h0M365.1 244.3h0M364.9 217.0h0M364.9 245.7h0M366.8 248.6h0M364.0 225.3h0M367.0 212.2h0M365.2 219.2h0M365.6 216.5h0M363.9 232.4h0M367.0 254.1h0M365.9 250.9h0M366.7 222.4h0M366.0 221.3h0M365.6 234.8h0M364.6 204.7h0M364.7 237.5h0M365.9 206.4h0M365.5 213.3h0M365.3 230.6h0M364.2 231.6h0M365.1 227.6h0M365.6 234.1h0M375.7 202.5h0M376.4 221.2h0M375.6 216.0h0M374.5 219.4h0M374.8 192.9h0M374.7 204.4h0M375.7 227.5h0M374.4 207.3h0M376.7 233.2h0M375.1 224.6h0M374.9 217.2h0M374.1 229.7h0M373.7 213.6h0M374.7 223.5h0M377.1 218.5h0M376.5 230.7h0M375.3 228.2h0M377.4 218.1h0M376.7 217.5h0M377.6 213.4h0M376.8 223.0h0M374.8 217.0h0M375.2 207.1h0M374.9 211.8h0M374.5 235.3h0M375.4 220.5h0M373.7 221.7h0M373.4 208.7h0M377.0 240.8h0M374.0 224.2h0M377.4 228.0h0M375.4 231.4h0M375.6 218.5h0M375.5 212.0h0M374.7 210.1h0M377.5 218.9h0M373.5 220.8h0M374.9 221.3h0M377.2 216.9h0M375.1 242.7h0M374.6 219.7h0M374.5 234.1h0M375.5 212.9h0M377.3 233.8h0M377.8 213.6h0M383.5 203.2h0M383.6 205.2h0M384.2 203.8h0M384.8 200.3h0M383.9 203.2h0M384.3 204.2h0M384.2 202.0h0M384.0 202.8h0M384.3 208.8h0M384.8 204.4h0M383.5 205.5h0M383.5 204.5h0M290.0 271.0h0M300.0 273.9h0M228.5 180.5h0M238.0 179.5h0" fill="none" stroke="#98caec" stroke-width="1.9" stroke-linecap="round"/><path d="M522.2 248.2h0M405.0 242.9h0M547.0 259.5h0M488.0 258.5h0M586.0 250.5h0" fill="none" stroke="#8fd68f" stroke-width="1.9" stroke-linecap="round"/><path d="M387.0 204.8h0M387.6 207.8h0M386.6 200.2h0M386.3 203.2h0M386.2 204.2h0M386.7 200.8h0M386.1 204.3h0M387.9 204.9h0M386.5 208.0h0M386.6 208.4h0M386.6 236.8h0M387.0 226.1h0M386.8 225.8h0M386.6 229.7h0M387.6 227.9h0M386.3 232.5h0M395.9 213.4h0M396.4 237.3h0M396.1 231.7h0M396.0 231.5h0M395.7 225.1h0M396.6 226.3h0M395.6 212.8h0M395.8 213.8h0M396.2 234.1h0M395.6 224.2h0M397.2 220.2h0M397.2 216.8h0M396.2 224.0h0M397.1 221.0h0M395.8 216.4h0M397.0 221.3h0M396.3 218.1h0M396.8 221.4h0M395.9 219.6h0M395.5 227.6h0M407.3 234.4h0M407.1 233.8h0M406.1 237.2h0M406.5 236.6h0M406.8 244.0h0M407.8 228.2h0M406.6 234.0h0M407.4 233.6h0M406.8 242.1h0M406.5 233.6h0M407.3 244.0h0M407.5 226.0h0M406.1 243.2h0M406.4 236.4h0M406.6 229.4h0M417.9 245.2h0M416.3 244.1h0M416.5 238.8h0M417.9 230.3h0M415.7 241.4h0M415.7 245.5h0M416.2 246.3h0M415.8 234.0h0M417.6 230.1h0M415.8 235.1h0M418.1 246.0h0M417.8 236.1h0M415.7 235.2h0M417.0 224.8h0M417.7 244.3h0M427.2 236.5h0M426.8 247.3h0M426.8 247.5h0M426.6 245.0h0M426.4 241.4h0M426.2 236.5h0M426.8 255.9h0M426.4 245.3h0M426.9 241.6h0M427.4 250.8h0M426.1 246.2h0M426.7 252.9h0M425.9 241.3h0M425.8 245.9h0M426.1 241.9h0M436.2 247.2h0M436.4 250.4h0M435.9 254.1h0M436.1 258.0h0M437.4 246.9h0M436.4 241.5h0M438.4 252.0h0M438.4 245.6h0M436.6 250.1h0M436.0 255.6h0M436.7 246.3h0M438.4 245.7h0M448.5 252.2h0M446.7 246.6h0M446.9 240.3h0M448.7 240.4h0M445.6 248.6h0M448.7 257.4h0M449.2 244.5h0M446.0 242.6h0M448.2 243.4h0M447.2 231.5h0M445.6 234.7h0M448.3 250.1h0M448.5 237.6h0M448.0 242.0h0M446.8 249.8h0M458.4 237.6h0M457.0 244.6h0M457.1 238.6h0M456.4 235.9h0M458.7 251.8h0M458.8 248.9h0M456.4 245.4h0M457.0 251.4h0" fill="none" stroke="#1a86e0" stroke-width="1.9" stroke-linecap="round"/><circle cx="81.90" cy="213.90" r="3.0" fill="#1f8fec" stroke="#3a3a3a" stroke-width="0.95"/><circle cx="92.20" cy="243.70" r="3.0" fill="#1f8fec" stroke="#3a3a3a" stroke-width="0.95"/><circle cx="102.50" cy="234.10" r="3.0" fill="#1f8fec" stroke="#3a3a3a" stroke-width="0.95"/><circle cx="109.30" cy="247.80" r="3.0" fill="#1f8fec" stroke="#3a3a3a" stroke-width="0.95"/><circle cx="112.90" cy="238.80" r="3.0" fill="#1f8fec" stroke="#3a3a3a" stroke-width="0.95"/><circle cx="122.80" cy="233.90" r="3.0" fill="#1f8fec" stroke="#3a3a3a" stroke-width="0.95"/><circle cx="126.60" cy="236.60" r="3.0" fill="#1f8fec" stroke="#3a3a3a" stroke-width="0.95"/><circle cx="133.50" cy="242.70" r="3.0" fill="#1f8fec" stroke="#3a3a3a" stroke-width="0.95"/><circle cx="143.50" cy="242.50" r="3.0" fill="#1f8fec" stroke="#3a3a3a" stroke-width="0.95"/><circle cx="147.20" cy="245.60" r="3.0" fill="#1f8fec" stroke="#3a3a3a" stroke-width="0.95"/><circle cx="154.00" cy="243.30" r="3.0" fill="#1f8fec" stroke="#3a3a3a" stroke-width="0.95"/><circle cx="157.40" cy="246.70" r="3.0" fill="#1f8fec" stroke="#3a3a3a" stroke-width="0.95"/><circle cx="161.10" cy="246.40" r="3.0" fill="#1f8fec" stroke="#3a3a3a" stroke-width="0.95"/><circle cx="164.50" cy="242.30" r="3.0" fill="#1f8fec" stroke="#3a3a3a" stroke-width="0.95"/><circle cx="167.90" cy="246.50" r="3.0" fill="#1f8fec" stroke="#3a3a3a" stroke-width="0.95"/><circle cx="174.70" cy="235.30" r="3.0" fill="#1f8fec" stroke="#3a3a3a" stroke-width="0.95"/><circle cx="178.40" cy="234.30" r="3.0" fill="#1f8fec" stroke="#3a3a3a" stroke-width="0.95"/><circle cx="184.90" cy="234.80" r="3.0" fill="#1f8fec" stroke="#3a3a3a" stroke-width="0.95"/><circle cx="188.40" cy="239.10" r="3.0" fill="#1f8fec" stroke="#3a3a3a" stroke-width="0.95"/><circle cx="192.10" cy="233.80" r="3.0" fill="#1f8fec" stroke="#3a3a3a" stroke-width="0.95"/><circle cx="195.50" cy="217.10" r="3.0" fill="#1f8fec" stroke="#3a3a3a" stroke-width="0.95"/><circle cx="205.90" cy="215.70" r="3.0" fill="#1f8fec" stroke="#3a3a3a" stroke-width="0.95"/><circle cx="209.10" cy="198.80" r="3.0" fill="#1f8fec" stroke="#3a3a3a" stroke-width="0.95"/><circle cx="216.20" cy="210.90" r="3.0" fill="#1f8fec" stroke="#3a3a3a" stroke-width="0.95"/><circle cx="226.40" cy="215.90" r="3.0" fill="#1f8fec" stroke="#3a3a3a" stroke-width="0.95"/><circle cx="229.90" cy="208.70" r="3.0" fill="#1f8fec" stroke="#3a3a3a" stroke-width="0.95"/><circle cx="236.90" cy="202.00" r="3.0" fill="#1f8fec" stroke="#3a3a3a" stroke-width="0.95"/><circle cx="233.30" cy="220.00" r="3.0" fill="#1f8fec" stroke="#3a3a3a" stroke-width="0.95"/><circle cx="240.20" cy="222.20" r="3.0" fill="#1f8fec" stroke="#3a3a3a" stroke-width="0.95"/><circle cx="247.20" cy="223.50" r="3.0" fill="#1f8fec" stroke="#3a3a3a" stroke-width="0.95"/><circle cx="250.70" cy="230.30" r="3.0" fill="#1f8fec" stroke="#3a3a3a" stroke-width="0.95"/><circle cx="254.10" cy="220.30" r="3.0" fill="#1f8fec" stroke="#3a3a3a" stroke-width="0.95"/><circle cx="257.40" cy="227.90" r="3.0" fill="#1f8fec" stroke="#3a3a3a" stroke-width="0.95"/><circle cx="261.00" cy="230.90" r="3.0" fill="#1f8fec" stroke="#3a3a3a" stroke-width="0.95"/><circle cx="264.40" cy="247.30" r="3.0" fill="#1f8fec" stroke="#3a3a3a" stroke-width="0.95"/><circle cx="267.70" cy="238.90" r="3.0" fill="#1f8fec" stroke="#3a3a3a" stroke-width="0.95"/><circle cx="271.30" cy="231.40" r="3.0" fill="#1f8fec" stroke="#3a3a3a" stroke-width="0.95"/><circle cx="278.00" cy="241.10" r="3.0" fill="#1f8fec" stroke="#3a3a3a" stroke-width="0.95"/><circle cx="281.60" cy="241.50" r="3.0" fill="#1f8fec" stroke="#3a3a3a" stroke-width="0.95"/><circle cx="288.40" cy="245.20" r="3.0" fill="#1f8fec" stroke="#3a3a3a" stroke-width="0.95"/><circle cx="292.10" cy="248.50" r="3.0" fill="#1f8fec" stroke="#3a3a3a" stroke-width="0.95"/><circle cx="298.70" cy="254.20" r="3.0" fill="#1f8fec" stroke="#3a3a3a" stroke-width="0.95"/><circle cx="301.90" cy="251.40" r="3.0" fill="#1f8fec" stroke="#3a3a3a" stroke-width="0.95"/><circle cx="305.70" cy="250.00" r="3.0" fill="#1f8fec" stroke="#3a3a3a" stroke-width="0.95"/><circle cx="309.00" cy="253.20" r="3.0" fill="#1f8fec" stroke="#3a3a3a" stroke-width="0.95"/><circle cx="312.40" cy="254.60" r="3.0" fill="#1f8fec" stroke="#3a3a3a" stroke-width="0.95"/><circle cx="316.00" cy="256.60" r="3.0" fill="#1f8fec" stroke="#3a3a3a" stroke-width="0.95"/><circle cx="319.70" cy="262.10" r="3.0" fill="#1f8fec" stroke="#3a3a3a" stroke-width="0.95"/><circle cx="322.90" cy="246.30" r="3.0" fill="#1f8fec" stroke="#3a3a3a" stroke-width="0.95"/><circle cx="333.40" cy="249.50" r="3.0" fill="#1f8fec" stroke="#3a3a3a" stroke-width="0.95"/><circle cx="340.00" cy="239.70" r="3.0" fill="#1f8fec" stroke="#3a3a3a" stroke-width="0.95"/><circle cx="343.70" cy="242.20" r="3.0" fill="#1f8fec" stroke="#3a3a3a" stroke-width="0.95"/><circle cx="350.50" cy="243.80" r="3.0" fill="#1f8fec" stroke="#3a3a3a" stroke-width="0.95"/><circle cx="353.90" cy="242.70" r="3.0" fill="#1f8fec" stroke="#3a3a3a" stroke-width="0.95"/><circle cx="357.60" cy="239.20" r="3.0" fill="#1f8fec" stroke="#3a3a3a" stroke-width="0.95"/><circle cx="364.30" cy="232.20" r="3.0" fill="#1f8fec" stroke="#3a3a3a" stroke-width="0.95"/><circle cx="367.90" cy="233.00" r="3.0" fill="#1f8fec" stroke="#3a3a3a" stroke-width="0.95"/><circle cx="374.60" cy="227.30" r="3.0" fill="#1f8fec" stroke="#3a3a3a" stroke-width="0.95"/><circle cx="378.20" cy="215.90" r="3.0" fill="#1f8fec" stroke="#3a3a3a" stroke-width="0.95"/><circle cx="385.10" cy="222.90" r="3.0" fill="#1f8fec" stroke="#000" stroke-width="1.7"/><circle cx="388.50" cy="217.70" r="3.0" fill="#1f8fec" stroke="#000" stroke-width="1.7"/><circle cx="395.30" cy="226.90" r="3.0" fill="#1f8fec" stroke="#000" stroke-width="1.7"/><circle cx="399.10" cy="225.50" r="3.0" fill="#1f8fec" stroke="#000" stroke-width="1.7"/><circle cx="402.50" cy="243.20" r="3.0" fill="#1f8fec" stroke="#000" stroke-width="1.7"/><circle cx="406.90" cy="238.10" r="3.0" fill="#1f8fec" stroke="#000" stroke-width="1.7"/><circle cx="409.60" cy="238.40" r="3.0" fill="#1f8fec" stroke="#000" stroke-width="1.7"/><circle cx="416.30" cy="243.20" r="3.0" fill="#1f8fec" stroke="#000" stroke-width="1.7"/><circle cx="419.70" cy="236.70" r="3.0" fill="#1f8fec" stroke="#000" stroke-width="1.7"/><circle cx="426.40" cy="242.50" r="3.0" fill="#1f8fec" stroke="#000" stroke-width="1.7"/><circle cx="429.80" cy="239.40" r="3.0" fill="#1f8fec" stroke="#000" stroke-width="1.7"/><circle cx="436.80" cy="248.60" r="3.0" fill="#1f8fec" stroke="#000" stroke-width="1.7"/><circle cx="440.20" cy="253.30" r="3.0" fill="#1f8fec" stroke="#000" stroke-width="1.7"/><circle cx="447.10" cy="242.50" r="3.0" fill="#1f8fec" stroke="#000" stroke-width="1.7"/><circle cx="450.50" cy="252.20" r="3.0" fill="#1f8fec" stroke="#000" stroke-width="1.7"/><circle cx="457.50" cy="239.80" r="3.0" fill="#1f8fec" stroke="#000" stroke-width="1.7"/><circle cx="405.70" cy="238.80" r="3.0" fill="#2ebd4f" stroke="#3a3a3a" stroke-width="0.95"/><circle cx="409.20" cy="231.50" r="3.0" fill="#2ebd4f" stroke="#3a3a3a" stroke-width="0.95"/><circle cx="481.70" cy="253.20" r="3.0" fill="#2ebd4f" stroke="#3a3a3a" stroke-width="0.95"/><circle cx="488.40" cy="254.20" r="3.0" fill="#2ebd4f" stroke="#3a3a3a" stroke-width="0.95"/><circle cx="491.80" cy="253.20" r="3.0" fill="#2ebd4f" stroke="#3a3a3a" stroke-width="0.95"/><circle cx="518.80" cy="255.30" r="3.0" fill="#2ebd4f" stroke="#3a3a3a" stroke-width="0.95"/><circle cx="522.50" cy="254.70" r="3.0" fill="#2ebd4f" stroke="#3a3a3a" stroke-width="0.95"/><circle cx="529.30" cy="254.20" r="3.0" fill="#2ebd4f" stroke="#3a3a3a" stroke-width="0.95"/><circle cx="532.90" cy="253.40" r="3.0" fill="#2ebd4f" stroke="#3a3a3a" stroke-width="0.95"/><circle cx="536.20" cy="253.80" r="3.0" fill="#2ebd4f" stroke="#3a3a3a" stroke-width="0.95"/><circle cx="539.40" cy="254.90" r="3.0" fill="#2ebd4f" stroke="#3a3a3a" stroke-width="0.95"/><circle cx="542.80" cy="254.60" r="3.0" fill="#2ebd4f" stroke="#3a3a3a" stroke-width="0.95"/><circle cx="546.70" cy="254.10" r="3.0" fill="#2ebd4f" stroke="#3a3a3a" stroke-width="0.95"/><circle cx="550.20" cy="254.40" r="3.0" fill="#2ebd4f" stroke="#3a3a3a" stroke-width="0.95"/><circle cx="554.00" cy="254.60" r="3.0" fill="#2ebd4f" stroke="#3a3a3a" stroke-width="0.95"/><circle cx="571.20" cy="254.10" r="3.0" fill="#2ebd4f" stroke="#3a3a3a" stroke-width="0.95"/><circle cx="585.00" cy="246.50" r="3.0" fill="#2ebd4f" stroke="#3a3a3a" stroke-width="0.95"/><circle cx="591.70" cy="250.10" r="3.0" fill="#2ebd4f" stroke="#3a3a3a" stroke-width="0.95"/><circle cx="595.40" cy="254.40" r="3.0" fill="#2ebd4f" stroke="#3a3a3a" stroke-width="0.95"/><circle cx="608.90" cy="249.00" r="3.0" fill="#2ebd4f" stroke="#3a3a3a" stroke-width="0.95"/><circle cx="612.60" cy="248.60" r="3.0" fill="#2ebd4f" stroke="#3a3a3a" stroke-width="0.95"/><circle cx="626.30" cy="247.40" r="3.0" fill="#2ebd4f" stroke="#3a3a3a" stroke-width="0.95"/><circle cx="636.70" cy="253.70" r="3.0" fill="#2ebd4f" stroke="#3a3a3a" stroke-width="0.95"/><circle cx="640.20" cy="247.40" r="3.0" fill="#2ebd4f" stroke="#3a3a3a" stroke-width="0.95"/><circle cx="643.70" cy="255.20" r="3.0" fill="#2ebd4f" stroke="#3a3a3a" stroke-width="0.95"/><line x1="65.40" y1="175.40" x2="65.40" y2="293.70" stroke="#808080" stroke-width="1.2"/><line x1="64.80" y1="293.70" x2="662.60" y2="293.70" stroke="#666" stroke-width="1.1"/><line x1="117.80" y1="293.70" x2="117.80" y2="292.10" stroke="#555" stroke-width="0.9"/><text x="117.80" y="309.40" font-size="12.8" text-anchor="middle" textLength="26.0" lengthAdjust="spacingAndGlyphs">1970</text><line x1="222.60" y1="293.70" x2="222.60" y2="292.10" stroke="#555" stroke-width="0.9"/><text x="222.60" y="309.40" font-size="12.8" text-anchor="middle" textLength="26.0" lengthAdjust="spacingAndGlyphs">1980</text><line x1="327.40" y1="293.70" x2="327.40" y2="292.10" stroke="#555" stroke-width="0.9"/><text x="327.40" y="309.40" font-size="12.8" text-anchor="middle" textLength="26.0" lengthAdjust="spacingAndGlyphs">1990</text><line x1="432.20" y1="293.70" x2="432.20" y2="292.10" stroke="#555" stroke-width="0.9"/><text x="432.20" y="309.40" font-size="12.8" text-anchor="middle" textLength="26.0" lengthAdjust="spacingAndGlyphs">2000</text><line x1="537.00" y1="293.70" x2="537.00" y2="292.10" stroke="#555" stroke-width="0.9"/><text x="537.00" y="309.40" font-size="12.8" text-anchor="middle" textLength="26.0" lengthAdjust="spacingAndGlyphs">2010</text><line x1="641.80" y1="293.70" x2="641.80" y2="292.10" stroke="#555" stroke-width="0.9"/><text x="641.80" y="309.40" font-size="12.8" text-anchor="middle" textLength="26.0" lengthAdjust="spacingAndGlyphs">2020</text><line x1="65.40" y1="175.40" x2="71.90" y2="175.40" stroke="#555" stroke-width="0.9"/><text x="55.10" y="180.00" font-size="12.8" text-anchor="end" textLength="28.0" lengthAdjust="spacingAndGlyphs">0.250</text><line x1="65.40" y1="200.00" x2="71.90" y2="200.00" stroke="#555" stroke-width="0.9"/><text x="55.10" y="204.60" font-size="12.8" text-anchor="end" textLength="28.0" lengthAdjust="spacingAndGlyphs">0.225</text><line x1="65.40" y1="224.60" x2="71.90" y2="224.60" stroke="#555" stroke-width="0.9"/><text x="55.10" y="229.20" font-size="12.8" text-anchor="end" textLength="28.0" lengthAdjust="spacingAndGlyphs">0.200</text><line x1="65.40" y1="249.20" x2="71.90" y2="249.20" stroke="#555" stroke-width="0.9"/><text x="55.10" y="253.80" font-size="12.8" text-anchor="end" textLength="28.0" lengthAdjust="spacingAndGlyphs">0.175</text><line x1="65.40" y1="273.80" x2="71.90" y2="273.80" stroke="#555" stroke-width="0.9"/><text x="55.10" y="278.40" font-size="12.8" text-anchor="end" textLength="28.0" lengthAdjust="spacingAndGlyphs">0.150</text><text x="364" y="325.90" font-size="15.9" text-anchor="middle" textLength="29.6" lengthAdjust="spacingAndGlyphs">Year</text><text x="116.8" y="276.30" font-size="17.0" textLength="119.2" lengthAdjust="spacingAndGlyphs">Ca II HK Activity</text><text x="117" y="287.10" font-size="7.1" fill="#222" textLength="71.6" lengthAdjust="spacingAndGlyphs">Baum+22 &amp; Olah+16</text><text x="0" y="0" font-size="16.2" text-anchor="middle" transform="translate(20.8 234.55) rotate(-90)">S</text><rect x="537.4" y="179.50" width="105.3" height="25.2" fill="#fff" stroke="#5a5a5a" stroke-width="0.95"/><circle cx="563.90" cy="187.90" r="3.1" fill="#9ccbe6"/><circle cx="563.90" cy="196.40" r="3.1" fill="#98d694"/><text x="590.1" y="190.30" font-size="7.1" textLength="39.6" lengthAdjust="spacingAndGlyphs">Mount Wilson</text><text x="590.1" y="198.60" font-size="7.1" textLength="34.7" lengthAdjust="spacingAndGlyphs">Keck-HIRES</text><rect x="384.0" y="344.40" width="96.70" height="115.40" fill="#f4f4f4"/><line x1="117.80" y1="344.20" x2="117.80" y2="462.10" stroke="#eeeeee" stroke-width="0.7"/><line x1="222.60" y1="344.20" x2="222.60" y2="462.10" stroke="#eeeeee" stroke-width="0.7"/><line x1="327.40" y1="344.20" x2="327.40" y2="462.10" stroke="#eeeeee" stroke-width="0.7"/><line x1="432.20" y1="344.20" x2="432.20" y2="462.10" stroke="#eeeeee" stroke-width="0.7"/><line x1="537.00" y1="344.20" x2="537.00" y2="462.10" stroke="#eeeeee" stroke-width="0.7"/><line x1="641.80" y1="344.20" x2="641.80" y2="462.10" stroke="#eeeeee" stroke-width="0.7"/><line x1="65.40" y1="352.60" x2="662.60" y2="352.60" stroke="#eeeeee" stroke-width="0.7"/><line x1="65.40" y1="377.20" x2="662.60" y2="377.20" stroke="#eeeeee" stroke-width="0.7"/><line x1="65.40" y1="401.80" x2="662.60" y2="401.80" stroke="#eeeeee" stroke-width="0.7"/><line x1="65.40" y1="426.40" x2="662.60" y2="426.40" stroke="#eeeeee" stroke-width="0.7"/><line x1="65.40" y1="451.00" x2="662.60" y2="451.00" stroke="#eeeeee" stroke-width="0.7"/><path d="M363.0 397.0h0M362.7 386.6h0M362.4 402.7h0M362.2 399.8h0M363.2 409.0h0M363.1 402.2h0M362.4 406.6h0M362.2 395.3h0M362.2 406.7h0M362.5 400.4h0M363.1 403.2h0M363.0 410.5h0M362.1 407.9h0M363.7 402.4h0M362.2 413.3h0M362.2 400.6h0M362.3 407.2h0M363.5 394.2h0M363.6 405.3h0M362.0 410.9h0M362.4 403.0h0M363.8 419.1h0M363.1 419.0h0M362.3 398.6h0M363.5 417.3h0M366.7 396.0h0M367.6 402.4h0M366.6 392.2h0M367.3 392.5h0M367.9 394.8h0M366.8 400.7h0M366.7 395.7h0M366.7 393.6h0M372.5 395.2h0M370.9 400.4h0M373.0 421.4h0M370.4 390.7h0M370.9 409.1h0M370.4 387.4h0M373.5 392.9h0M372.2 403.2h0M373.7 376.7h0M371.6 391.3h0M373.8 403.4h0M371.7 399.8h0M372.6 397.8h0M372.6 399.1h0M370.4 401.0h0M370.9 386.8h0M371.4 398.2h0M371.3 377.3h0M374.2 394.6h0M372.5 417.5h0M373.3 405.3h0M371.7 403.3h0M374.0 388.4h0M373.3 398.9h0M372.8 381.8h0M372.4 405.6h0M371.6 397.5h0M371.7 401.3h0M371.2 399.1h0M373.7 399.2h0M376.9 379.0h0M376.1 380.9h0M376.6 380.3h0M377.9 382.4h0M376.2 377.9h0M377.2 377.4h0M377.5 380.1h0M377.0 376.1h0M381.8 395.3h0M381.4 395.7h0M382.6 392.7h0M383.6 402.6h0M381.5 414.6h0M383.6 401.7h0M382.3 385.0h0M381.5 403.4h0M385.3 390.6h0M382.2 402.7h0M382.6 390.8h0M380.8 405.5h0M382.2 399.5h0M383.6 396.0h0M385.3 397.2h0M385.6 389.3h0M382.2 390.3h0M381.3 397.3h0M384.7 394.3h0M383.3 388.3h0M383.6 393.9h0M384.4 394.4h0M384.5 386.6h0M384.5 395.2h0M381.9 400.1h0M380.5 395.8h0M383.9 391.8h0M385.6 397.1h0M380.6 394.3h0M380.8 393.2h0M388.9 394.6h0M387.3 394.9h0M387.3 381.8h0M388.6 403.4h0M388.3 395.2h0M388.6 389.9h0M387.2 379.5h0M388.3 408.2h0M388.7 390.0h0M388.8 400.8h0M387.4 393.4h0M387.5 396.5h0M388.5 388.3h0M389.0 400.2h0M388.1 404.3h0M393.1 412.0h0M393.1 386.0h0M393.9 382.3h0M394.7 388.1h0M395.5 400.4h0M395.5 400.3h0M392.7 419.8h0M393.2 382.8h0M392.4 375.4h0M395.6 397.2h0M392.7 379.1h0M393.4 407.2h0M395.5 376.5h0M392.9 406.0h0M392.2 394.1h0M392.9 398.7h0M396.0 398.4h0M395.5 393.5h0M393.7 397.8h0M394.7 396.8h0M392.4 388.7h0M394.0 390.7h0M392.9 414.7h0M394.9 400.1h0M392.3 402.8h0M398.8 387.0h0M397.8 393.1h0M398.8 388.9h0M399.1 397.5h0M399.2 388.6h0M399.6 393.2h0M398.5 397.4h0M397.8 398.5h0M398.3 387.5h0M398.3 399.3h0M402.5 425.6h0M405.6 408.5h0M404.6 404.0h0M403.3 385.5h0M405.0 411.6h0M404.4 397.5h0M404.5 404.9h0M404.8 399.5h0M404.7 409.1h0M404.5 413.0h0M403.1 409.7h0M404.9 422.6h0M403.9 423.3h0M404.1 426.2h0M404.1 397.7h0M402.7 409.0h0M404.6 431.2h0M405.5 399.2h0M405.3 422.0h0M402.6 417.4h0M405.2 415.9h0M403.8 388.1h0M404.8 428.7h0M403.9 424.3h0M402.6 404.2h0M409.4 403.4h0M408.8 415.0h0M408.2 414.3h0M410.1 411.0h0M408.6 411.0h0M409.8 392.9h0M409.0 415.4h0M408.8 405.6h0M409.1 407.2h0M409.0 425.8h0M408.7 401.7h0M409.6 392.3h0M411.1 402.1h0M409.9 422.6h0M408.8 415.5h0M409.3 422.9h0M407.5 399.3h0M410.6 411.3h0M409.2 405.8h0M409.3 415.1h0M410.2 397.0h0M407.6 411.9h0M410.3 388.4h0M408.2 410.7h0M407.7 412.5h0M413.3 411.2h0M415.2 399.6h0M416.2 382.0h0M416.8 388.0h0M414.5 390.3h0M413.0 393.3h0M414.2 402.1h0M415.6 416.0h0M414.9 397.9h0M416.7 392.5h0M413.9 415.4h0M415.5 394.8h0M415.7 404.3h0M416.7 410.1h0M413.2 398.3h0M415.5 397.0h0M414.3 394.0h0M416.3 406.3h0M415.1 400.2h0M417.0 400.1h0M415.0 384.0h0M417.0 399.0h0M417.2 400.1h0M416.7 397.8h0M414.4 393.4h0M420.8 410.3h0M418.0 403.5h0M420.6 402.2h0M420.1 415.3h0M418.2 399.8h0M420.2 409.1h0M418.5 400.8h0M418.8 415.2h0M418.8 390.7h0M420.6 401.2h0M417.7 419.3h0M420.0 402.9h0M419.4 402.9h0M420.2 405.1h0M420.7 427.7h0M421.2 394.7h0M418.7 406.0h0M421.1 397.4h0M419.4 410.3h0M419.7 409.7h0M421.0 394.0h0M421.1 410.5h0M419.9 399.1h0M421.2 386.2h0M418.9 406.2h0M423.1 401.9h0M422.9 421.0h0M422.9 412.1h0M423.8 401.3h0M423.9 407.9h0M424.0 407.2h0M423.6 396.6h0M423.1 403.3h0M424.6 409.2h0M423.0 412.4h0M423.8 407.7h0M423.0 414.2h0M423.9 417.1h0M423.2 411.0h0M423.3 410.1h0M429.4 410.5h0M429.8 409.2h0M428.0 397.4h0M428.4 406.6h0M425.8 408.6h0M425.1 388.3h0M427.2 396.0h0M428.1 399.4h0M424.8 408.9h0M427.5 420.8h0M425.5 405.0h0M429.6 406.5h0M429.8 404.1h0M424.8 414.7h0M424.1 408.5h0M424.0 408.0h0M430.0 419.7h0M426.5 413.3h0M428.6 417.9h0M427.6 396.6h0M430.9 439.6h0M430.7 453.3h0M430.6 435.5h0M431.0 458.6h0M430.8 455.5h0M430.4 457.5h0M431.0 457.6h0M429.7 447.4h0M431.3 455.1h0M429.6 438.4h0M429.5 444.7h0M429.6 452.8h0M430.7 442.3h0M430.9 452.0h0M440.6 411.7h0M434.4 429.3h0M436.2 421.8h0M433.8 405.1h0M433.9 418.2h0M438.2 408.9h0M436.2 407.5h0M438.3 426.0h0M434.4 413.3h0M438.6 399.9h0M438.7 408.5h0M439.7 413.2h0M436.4 432.5h0M440.2 431.6h0M436.6 423.3h0M440.9 413.3h0M439.8 415.3h0M435.1 413.6h0M439.6 415.5h0M436.3 402.6h0M437.5 411.1h0M440.5 422.3h0M434.3 413.2h0M440.7 410.4h0M436.5 407.3h0M446.7 411.9h0M445.2 386.3h0M447.5 415.3h0M445.6 434.7h0M447.0 385.0h0M445.1 431.5h0M444.2 406.1h0M446.3 399.5h0M446.6 422.0h0M447.2 402.3h0M448.2 429.7h0M446.7 409.2h0M448.1 423.1h0M444.8 395.9h0M447.3 403.8h0M444.2 416.1h0M447.0 408.0h0M445.0 409.2h0M448.1 393.9h0M445.0 394.4h0M445.0 421.1h0M444.0 404.5h0M448.1 417.9h0M444.5 409.1h0M447.5 428.2h0M454.1 412.6h0M455.9 423.2h0M453.9 404.1h0M458.4 409.8h0M453.7 392.3h0M457.8 422.2h0M454.4 402.1h0M453.6 400.7h0M456.7 408.6h0M457.6 408.6h0M458.8 420.6h0M457.4 422.0h0M458.6 405.4h0M454.7 405.7h0M453.2 413.6h0M455.6 429.7h0M452.8 419.1h0M455.5 419.5h0M456.0 415.3h0M456.0 419.4h0M457.9 401.7h0M456.7 412.3h0M458.3 422.8h0M457.7 428.7h0M452.8 421.1h0M456.2 421.2h0M457.8 416.3h0M453.4 421.3h0M467.3 406.1h0M465.3 418.3h0M466.3 422.5h0M461.3 412.5h0M460.7 399.9h0M460.6 395.3h0M461.9 405.3h0M462.7 407.8h0M461.9 399.6h0M466.3 413.9h0M460.5 391.7h0M463.9 421.7h0M465.5 416.2h0M463.2 407.8h0M466.5 425.5h0M467.2 409.5h0M467.4 408.4h0M463.6 421.3h0M463.6 412.8h0M461.7 411.3h0M465.6 416.9h0M463.5 410.9h0M462.2 407.7h0M465.3 423.0h0M467.1 421.9h0M465.5 412.6h0M466.5 417.9h0M462.2 413.4h0M471.6 432.3h0M472.9 417.1h0M478.6 412.9h0M471.0 419.6h0M471.5 413.5h0M479.5 425.2h0M474.6 401.1h0M471.0 410.4h0M472.4 414.3h0M478.7 430.6h0M479.4 413.9h0M477.8 401.3h0M470.1 408.7h0M475.6 425.9h0M477.5 415.2h0M470.4 415.8h0M470.7 405.7h0M474.7 403.9h0M472.3 410.3h0M471.0 405.7h0M471.2 406.9h0M476.1 412.4h0M470.6 398.4h0M474.5 416.7h0M476.5 405.2h0M476.2 413.5h0M471.4 418.1h0M470.6 418.9h0M473.8 426.2h0M476.1 397.9h0M612.6 429.8h0M612.4 416.4h0M613.1 404.7h0M614.7 422.8h0M615.5 417.6h0M614.9 417.9h0M615.7 403.3h0M615.1 413.4h0M615.1 434.7h0M612.3 419.2h0M615.2 422.0h0M614.4 398.6h0M612.5 407.8h0M613.7 416.5h0M614.9 423.1h0M613.9 405.3h0M614.6 413.7h0M615.7 410.5h0M612.6 431.8h0M615.3 418.3h0M613.6 417.1h0M614.4 428.4h0M612.3 412.8h0M612.7 421.0h0M614.1 412.8h0M614.4 434.7h0M614.9 434.6h0M615.2 396.6h0M614.7 413.8h0M615.4 424.0h0M614.8 414.1h0M613.4 415.4h0M613.9 423.4h0M615.6 431.3h0M615.8 407.1h0M613.2 396.2h0M613.1 434.9h0M613.5 428.6h0M615.4 418.2h0M612.7 408.8h0M614.5 418.4h0M615.7 419.7h0M614.2 418.5h0M615.6 434.6h0M614.7 399.2h0M613.0 417.8h0M613.2 437.9h0M612.9 424.8h0M614.7 427.7h0M613.2 416.1h0M612.4 404.3h0M613.2 423.0h0M614.4 421.0h0M614.7 419.3h0M612.4 401.4h0M612.7 437.0h0M614.7 417.8h0M615.0 421.7h0M613.7 414.4h0M614.8 420.4h0M615.6 417.7h0M615.2 415.2h0M615.3 424.1h0M613.3 422.5h0M612.9 420.5h0M614.6 431.3h0M612.8 423.8h0M614.6 404.9h0M612.5 416.0h0M615.3 423.4h0M614.8 415.2h0M615.1 411.0h0M612.7 423.3h0M615.1 407.9h0M613.1 425.1h0M613.1 411.0h0M614.5 432.7h0M612.5 431.3h0M613.1 413.5h0M613.9 399.3h0M623.0 406.1h0M623.4 403.7h0M622.8 418.6h0M625.9 401.7h0M623.4 422.6h0M625.6 435.2h0M623.0 421.0h0M623.4 421.3h0M625.6 424.8h0M625.8 429.8h0M622.9 412.2h0M623.3 414.1h0M623.0 419.2h0M623.2 422.7h0M624.9 399.7h0M624.2 421.5h0M623.4 424.4h0M624.9 425.6h0M625.2 414.3h0M625.8 403.8h0M623.4 437.0h0M622.9 427.4h0M623.1 421.7h0M625.2 438.6h0M624.0 399.2h0M625.9 411.6h0M625.9 440.9h0M624.8 421.2h0M625.5 427.8h0M623.4 412.4h0M624.0 419.9h0M624.9 417.0h0M625.5 422.9h0M624.7 411.2h0M625.1 422.5h0M623.4 423.9h0M623.1 423.4h0M625.7 419.0h0M623.4 413.3h0M624.0 426.8h0M625.6 410.1h0M625.9 400.9h0M625.8 416.0h0M622.7 415.5h0M625.6 421.2h0M625.6 426.5h0M624.4 437.9h0M623.5 423.6h0M625.4 439.6h0M623.3 427.3h0M623.2 409.6h0M623.4 421.0h0M625.0 414.4h0M625.2 418.7h0M625.0 399.1h0M624.3 428.8h0M624.9 432.0h0M623.4 439.4h0M623.3 439.6h0M625.8 416.7h0M625.2 426.9h0M625.3 420.8h0M623.5 424.8h0M623.1 416.6h0M622.9 438.8h0M624.6 428.6h0M624.1 418.6h0M625.0 420.1h0M623.9 431.3h0M625.5 425.7h0M625.1 407.0h0M625.3 419.5h0M624.7 435.9h0M624.7 433.1h0M622.7 429.5h0M623.6 424.3h0M625.0 420.1h0M623.4 414.9h0M622.7 399.7h0M625.9 405.0h0M635.4 410.5h0M635.5 407.8h0M634.9 419.8h0M635.9 408.0h0M636.1 411.4h0M635.6 420.9h0M636.4 398.9h0M635.1 413.3h0M636.0 422.0h0M635.0 404.9h0M636.0 430.7h0M635.2 405.9h0M635.9 402.6h0M635.1 401.3h0M635.9 417.8h0M635.7 398.0h0M636.0 425.7h0M635.3 426.4h0M635.8 405.5h0M635.3 407.9h0M635.1 420.0h0M636.0 430.9h0M635.3 404.9h0M636.0 415.8h0M634.9 403.2h0M636.4 416.6h0M635.1 416.2h0M635.7 412.3h0M636.0 430.0h0M635.0 412.0h0M635.2 406.2h0M635.3 427.3h0M636.1 415.9h0M636.4 423.3h0M635.0 424.1h0M635.3 423.6h0M636.5 402.2h0M635.6 409.6h0M634.9 429.8h0M635.5 415.7h0M636.4 420.2h0M635.3 402.5h0M635.0 422.7h0M636.2 425.8h0M635.1 415.0h0M635.4 419.1h0M635.0 437.3h0M636.1 435.6h0M635.6 422.7h0M635.3 427.5h0M636.0 424.5h0M635.0 411.3h0M635.2 435.1h0M635.6 403.1h0M636.3 423.7h0M635.4 428.7h0M635.5 433.8h0M635.8 419.0h0M636.3 410.8h0M636.2 408.1h0M639.3 407.4h0M639.3 404.9h0M639.1 409.3h0M639.7 420.2h0M639.1 421.8h0M640.3 420.2h0M640.0 409.2h0M640.0 407.8h0M639.6 414.2h0M640.1 424.1h0M638.9 419.9h0M639.8 397.7h0M640.1 410.7h0M639.2 421.1h0M640.1 407.7h0M639.2 415.9h0M638.7 403.4h0M638.8 414.9h0M639.9 406.9h0M640.0 406.1h0M639.7 411.2h0M640.1 406.1h0M647.0 401.3h0M645.7 421.3h0M645.3 438.8h0M646.1 422.3h0M644.8 442.6h0M646.2 422.2h0M645.7 430.9h0M645.0 419.3h0M645.5 434.4h0M644.7 419.9h0M644.1 444.2h0M645.1 430.6h0M647.2 405.9h0M644.5 419.8h0M645.6 428.6h0M643.8 444.6h0M645.6 405.1h0M647.1 433.0h0M646.9 440.9h0M644.1 415.2h0M645.4 439.8h0M647.3 441.3h0M645.6 410.5h0M645.0 408.7h0M644.4 421.0h0M645.2 409.7h0M643.2 417.6h0M644.2 407.3h0M645.4 406.5h0M644.1 431.1h0M646.4 430.6h0M644.4 441.0h0M643.4 417.6h0M643.6 409.9h0M646.6 403.1h0M645.2 444.5h0M644.6 408.1h0M644.1 410.9h0M644.5 426.4h0M644.1 422.9h0M645.4 427.0h0M645.3 443.3h0M645.3 419.0h0M644.1 403.2h0M643.9 414.1h0M644.9 416.8h0M644.7 415.2h0M643.9 423.9h0M643.2 431.5h0M644.7 440.7h0M644.9 410.6h0M645.6 431.8h0M647.3 400.3h0M644.8 434.5h0M645.7 412.7h0M647.3 415.7h0M644.0 432.0h0M643.3 411.7h0M645.3 413.8h0M647.0 402.2h0M645.9 412.3h0M644.9 434.2h0M644.3 415.0h0M644.8 422.3h0M644.4 416.7h0M646.7 419.8h0M644.0 418.8h0M646.7 420.8h0M644.3 431.1h0M647.1 422.9h0M604.5 403.6h0M604.5 408.0h0M604.5 426.0h0M604.5 428.0h0M608.2 433.0h0M617.5 404.0h0M618.5 415.0h0M618.0 430.0h0M650.2 394.8h0M650.2 403.0h0M650.2 408.0h0M650.2 426.0h0M650.2 437.8h0M619.0 395.0h0M609.0 440.0h0M629.0 437.0h0M363.2 404.1h0M359.5 409.6h0M359.9 396.6h0M362.4 406.6h0M359.5 394.1h0M362.9 401.3h0M363.4 388.9h0M359.3 405.4h0M359.2 402.6h0M362.2 398.0h0M359.8 397.8h0M359.9 390.6h0M363.4 392.5h0M360.7 410.5h0M364.4 400.5h0M363.8 404.5h0M367.1 426.0h0M365.8 404.4h0M363.4 406.9h0M364.2 401.5h0M365.0 398.7h0M365.7 411.3h0M366.2 403.8h0M365.2 384.1h0M365.3 407.4h0M364.2 384.7h0M366.5 414.9h0M366.7 397.2h0M367.2 399.1h0M368.1 400.7h0M369.9 400.2h0M369.9 400.0h0M369.9 400.9h0M368.2 395.3h0M369.6 390.8h0M368.2 422.7h0M370.5 395.4h0M369.1 397.5h0M367.6 409.0h0M370.4 405.2h0M370.0 385.7h0M370.8 398.0h0M373.6 394.6h0M371.5 397.8h0M374.1 398.5h0M372.5 398.7h0M370.7 422.0h0M374.4 402.1h0M373.6 396.8h0M372.8 411.9h0M372.2 395.3h0M374.4 415.2h0M370.8 410.0h0M371.5 415.7h0M372.2 413.8h0M373.5 401.3h0M376.1 410.1h0M373.6 381.1h0M374.1 396.1h0M376.1 394.0h0M377.2 404.0h0M377.3 405.0h0M375.7 395.4h0M376.8 396.0h0M377.0 385.6h0M375.0 405.2h0M373.7 392.4h0M376.5 403.8h0M373.4 406.2h0M377.5 381.2h0M377.4 385.6h0M379.6 384.5h0M380.4 394.2h0M376.9 385.6h0M380.5 389.9h0M380.7 399.2h0M378.9 391.6h0M380.0 388.3h0M380.9 381.2h0M377.6 400.2h0M377.3 401.9h0M377.6 381.3h0M377.5 389.4h0M380.9 373.8h0M381.1 397.3h0M384.0 398.2h0M382.7 414.0h0M384.3 396.4h0M382.3 382.1h0M383.8 390.9h0M384.0 396.1h0M383.5 388.5h0M381.0 381.2h0M382.0 404.9h0M384.1 374.1h0M380.7 390.1h0M381.8 384.2h0M380.7 401.3h0M385.7 407.5h0M384.7 392.1h0M386.9 408.3h0M386.1 409.6h0M385.1 415.8h0M387.7 404.7h0M386.1 399.2h0M387.8 391.3h0M384.9 407.3h0M383.6 401.1h0M384.8 404.2h0M386.3 379.6h0M386.5 391.4h0M385.1 411.9h0M389.4 389.2h0M390.8 389.1h0M389.7 385.7h0M388.3 399.8h0M391.3 391.9h0M387.3 404.6h0M387.9 393.9h0M389.2 405.8h0M389.9 404.8h0M390.0 418.3h0M390.0 380.7h0M390.1 396.1h0M388.9 393.2h0M391.3 388.7h0M390.5 408.5h0M392.3 407.5h0M394.1 390.8h0M390.6 399.4h0M394.2 403.1h0M390.9 404.2h0M394.4 394.8h0M392.8 387.3h0M392.3 418.7h0M393.6 413.2h0M394.8 404.7h0M391.0 397.5h0M391.2 390.6h0M392.1 386.0h0M398.3 386.0h0M398.3 395.6h0M394.6 395.8h0M397.1 396.9h0M397.9 402.3h0M395.0 408.3h0M394.6 409.1h0M396.5 406.7h0M396.1 400.0h0M396.4 396.4h0M396.3 401.6h0M394.0 413.8h0M394.9 408.4h0M397.2 405.9h0M398.3 408.1h0M397.6 382.5h0M398.7 392.6h0M400.6 393.6h0M400.9 404.5h0M399.2 370.9h0M399.9 390.9h0M398.0 394.7h0M398.7 392.9h0M397.6 385.7h0M398.6 383.7h0M399.5 397.5h0M397.9 388.7h0M398.5 382.4h0M404.2 418.2h0M403.0 402.0h0M401.6 403.0h0M404.8 397.5h0M403.9 396.4h0M401.4 392.5h0M401.6 400.2h0M404.4 398.4h0M401.8 390.1h0M404.0 388.5h0M401.5 406.0h0M405.1 407.0h0M402.9 400.7h0M402.0 412.3h0M408.7 426.2h0M405.8 417.6h0M405.3 432.3h0M406.1 415.4h0M405.0 410.2h0M404.6 393.0h0M408.3 411.7h0M404.7 408.6h0M405.2 418.8h0M407.2 402.6h0M405.6 419.5h0M408.4 423.0h0M404.9 409.6h0M406.4 428.6h0M410.9 425.0h0M410.3 417.9h0M410.9 414.8h0M411.3 421.2h0M408.0 420.4h0M410.4 413.8h0M410.9 407.0h0M409.4 413.5h0M412.1 408.2h0M409.7 419.1h0M411.0 415.3h0M411.6 411.8h0M411.6 411.2h0M411.0 421.8h0M414.3 417.5h0M411.3 419.8h0M415.1 413.9h0M415.7 403.5h0M414.8 429.6h0M415.1 391.5h0M414.1 399.2h0M415.5 406.2h0M413.6 409.3h0M413.4 407.2h0M413.5 419.1h0M413.9 412.9h0M413.5 418.8h0M413.5 400.1h0M415.2 405.5h0M416.7 396.5h0M417.5 414.2h0M417.8 392.2h0M418.5 398.3h0M416.6 393.7h0M416.2 404.3h0M417.5 403.3h0M417.6 389.6h0M415.3 390.9h0M415.7 401.5h0M416.0 399.4h0M415.3 384.4h0M415.4 401.8h0M420.9 389.1h0M420.7 399.4h0M418.2 395.2h0M419.5 424.4h0M420.2 406.5h0M420.8 417.8h0M418.9 398.5h0M419.4 414.3h0M421.1 412.0h0M420.0 397.0h0M420.0 407.1h0M421.0 415.7h0M421.7 391.2h0M419.8 395.0h0M425.7 414.5h0M422.2 414.8h0M425.5 416.9h0M425.2 402.2h0M425.3 426.1h0M423.3 416.3h0M423.0 425.3h0M421.9 418.7h0M423.1 405.2h0M424.0 410.7h0M423.1 412.6h0M423.1 419.5h0M424.7 411.4h0M422.9 405.4h0M425.7 404.2h0M425.0 409.9h0M426.2 404.6h0M425.8 427.7h0M425.9 400.0h0M427.5 408.5h0M425.1 412.0h0M426.3 408.1h0M427.1 406.0h0M425.4 417.4h0M426.7 423.2h0M426.5 419.3h0M429.2 413.0h0M426.0 419.8h0M430.8 435.0h0M429.9 455.9h0M431.8 444.1h0M429.4 442.0h0M432.5 430.2h0M428.4 435.6h0M430.9 444.7h0M431.6 446.5h0M429.9 430.8h0M431.7 445.8h0M431.5 444.6h0M430.1 444.2h0M430.2 440.1h0M429.1 444.3h0M432.0 417.1h0M433.2 407.2h0M432.9 421.4h0M434.7 391.6h0M432.3 414.4h0M433.8 408.3h0M435.4 417.3h0M432.5 423.1h0M433.1 411.1h0M434.3 410.2h0M432.0 414.1h0M435.8 414.0h0M434.5 420.2h0M433.9 413.2h0M438.7 423.1h0M436.5 396.4h0M436.6 427.2h0M436.8 423.0h0M437.9 427.3h0M437.0 410.6h0M438.5 419.7h0M437.0 420.3h0M438.2 408.4h0M435.1 420.3h0M438.0 438.5h0M438.0 405.8h0M435.9 416.2h0M435.8 407.5h0M440.0 407.9h0M441.7 427.0h0M439.7 428.3h0M441.1 414.4h0M439.5 429.4h0M441.0 415.3h0M440.3 415.7h0M441.9 407.0h0M442.3 415.3h0M441.4 420.6h0M442.6 428.5h0M441.4 419.1h0M440.9 410.3h0M443.2 424.6h0M442.5 398.5h0M444.7 430.8h0M446.3 414.6h0M445.2 408.4h0M442.8 427.6h0M445.6 408.7h0M445.9 410.1h0M443.9 416.9h0M444.3 398.3h0M445.8 415.9h0M443.5 428.7h0M442.1 408.6h0M442.3 413.1h0M444.7 414.2h0M446.7 409.1h0M446.6 422.5h0M449.2 396.0h0M449.8 390.5h0M446.6 411.3h0M449.5 410.8h0M446.4 391.8h0M445.8 415.6h0M448.1 400.2h0M449.2 414.1h0M447.4 416.3h0M448.9 399.7h0M449.6 407.0h0M446.6 404.9h0M449.8 396.4h0M451.8 408.3h0M449.7 417.3h0M452.9 406.1h0M450.9 421.3h0M448.8 413.7h0M452.6 398.5h0M450.3 415.5h0M451.9 421.5h0M451.6 404.3h0M449.4 419.5h0M452.7 402.9h0M452.2 415.3h0M449.6 412.0h0M455.9 404.4h0M452.7 410.6h0M454.4 425.3h0M454.0 407.1h0M454.2 409.7h0M452.3 414.8h0M456.0 406.1h0M454.7 402.6h0M452.9 405.2h0M455.7 408.0h0M455.8 430.0h0M455.3 416.5h0M455.3 403.9h0M456.5 414.2h0M457.5 411.9h0M457.9 411.9h0M459.5 413.2h0M457.4 411.5h0M458.2 412.7h0M456.5 397.1h0M457.6 409.8h0M457.9 409.0h0M459.8 406.7h0M456.6 423.0h0M458.2 411.8h0M458.1 411.3h0M457.0 423.5h0M458.9 409.7h0M462.2 429.3h0M460.9 414.4h0M462.1 418.1h0M462.3 424.2h0M462.5 427.1h0M459.7 427.3h0M459.5 402.3h0M460.4 423.6h0M459.7 421.2h0M461.5 417.7h0M461.3 425.3h0M460.9 421.2h0M459.8 403.7h0M460.3 425.7h0M463.2 408.5h0M465.8 413.7h0M463.6 382.1h0M462.9 408.5h0M466.8 398.8h0M464.4 406.8h0M466.9 411.3h0M465.0 399.1h0M466.1 411.6h0M466.4 402.5h0M464.5 408.9h0M466.6 397.0h0M465.2 415.4h0M464.7 402.1h0M468.8 410.8h0M470.1 421.5h0M470.2 418.1h0M470.6 426.5h0M469.1 415.0h0M470.0 409.2h0M467.6 414.8h0M469.4 413.1h0M469.1 407.9h0M469.2 412.9h0M468.2 412.3h0M467.7 407.2h0M466.9 409.2h0M469.2 410.2h0M471.0 423.6h0M472.1 409.7h0M472.9 403.9h0M470.0 410.0h0M472.9 407.3h0M471.3 412.0h0M471.9 416.3h0M471.5 416.0h0M471.0 415.7h0M474.0 401.0h0M470.7 414.5h0M474.0 402.4h0M473.4 419.8h0M471.4 408.3h0M473.5 407.8h0M473.2 397.7h0M473.9 420.9h0M474.9 415.7h0M473.7 407.9h0M475.3 396.1h0M476.9 424.7h0M474.0 406.4h0M473.1 411.6h0M475.0 421.7h0M475.6 411.2h0M476.1 434.0h0M473.5 423.0h0M474.3 414.7h0M478.1 414.8h0M477.0 414.9h0M477.1 416.8h0M477.4 419.9h0M477.3 418.4h0M478.7 427.4h0M478.2 429.2h0M477.5 417.5h0M476.6 433.7h0M479.7 434.2h0M478.2 429.0h0M479.0 419.2h0M476.7 413.4h0M479.5 404.2h0" fill="none" stroke="#ffa868" stroke-width="1.9" stroke-linecap="round"/><path d="M361.30 397.34 L365.00 404.37 L357.60 404.37Z" fill="#ff5a0a" stroke="#000" stroke-width="1.15" stroke-linejoin="miter"/><path d="M364.90 398.14 L368.60 405.17 L361.20 405.17Z" fill="#ff5a0a" stroke="#000" stroke-width="1.15" stroke-linejoin="miter"/><path d="M368.60 397.34 L372.30 404.37 L364.90 404.37Z" fill="#ff5a0a" stroke="#000" stroke-width="1.15" stroke-linejoin="miter"/><path d="M372.50 398.24 L376.20 405.27 L368.80 405.27Z" fill="#ff5a0a" stroke="#000" stroke-width="1.15" stroke-linejoin="miter"/><path d="M375.40 391.84 L379.10 398.87 L371.70 398.87Z" fill="#ff5a0a" stroke="#000" stroke-width="1.15" stroke-linejoin="miter"/><path d="M379.00 385.74 L382.70 392.77 L375.30 392.77Z" fill="#ff5a0a" stroke="#000" stroke-width="1.15" stroke-linejoin="miter"/><path d="M382.20 391.04 L385.90 398.07 L378.50 398.07Z" fill="#ff5a0a" stroke="#000" stroke-width="1.15" stroke-linejoin="miter"/><path d="M385.70 396.14 L389.40 403.17 L382.00 403.17Z" fill="#ff5a0a" stroke="#000" stroke-width="1.15" stroke-linejoin="miter"/><path d="M389.20 389.54 L392.90 396.57 L385.50 396.57Z" fill="#ff5a0a" stroke="#000" stroke-width="1.15" stroke-linejoin="miter"/><path d="M392.70 394.04 L396.40 401.07 L389.00 401.07Z" fill="#ff5a0a" stroke="#000" stroke-width="1.15" stroke-linejoin="miter"/><path d="M396.10 401.34 L399.80 408.37 L392.40 408.37Z" fill="#ff5a0a" stroke="#000" stroke-width="1.15" stroke-linejoin="miter"/><path d="M399.40 387.64 L403.10 394.67 L395.70 394.67Z" fill="#ff5a0a" stroke="#000" stroke-width="1.15" stroke-linejoin="miter"/><path d="M403.30 396.94 L407.00 403.97 L399.60 403.97Z" fill="#ff5a0a" stroke="#000" stroke-width="1.15" stroke-linejoin="miter"/><path d="M406.50 415.34 L410.20 422.37 L402.80 422.37Z" fill="#ff5a0a" stroke="#000" stroke-width="1.15" stroke-linejoin="miter"/><path d="M410.00 411.54 L413.70 418.57 L406.30 418.57Z" fill="#ff5a0a" stroke="#000" stroke-width="1.15" stroke-linejoin="miter"/><path d="M413.50 408.04 L417.20 415.07 L409.80 415.07Z" fill="#ff5a0a" stroke="#000" stroke-width="1.15" stroke-linejoin="miter"/><path d="M416.60 395.34 L420.30 402.37 L412.90 402.37Z" fill="#ff5a0a" stroke="#000" stroke-width="1.15" stroke-linejoin="miter"/><path d="M420.10 398.24 L423.80 405.27 L416.40 405.27Z" fill="#ff5a0a" stroke="#000" stroke-width="1.15" stroke-linejoin="miter"/><path d="M423.60 407.14 L427.30 414.17 L419.90 414.17Z" fill="#ff5a0a" stroke="#000" stroke-width="1.15" stroke-linejoin="miter"/><path d="M427.10 411.94 L430.80 418.97 L423.40 418.97Z" fill="#ff5a0a" stroke="#000" stroke-width="1.15" stroke-linejoin="miter"/><path d="M430.40 436.64 L434.10 443.67 L426.70 443.67Z" fill="#ff5a0a" stroke="#000" stroke-width="1.15" stroke-linejoin="miter"/><path d="M433.80 413.34 L437.50 420.37 L430.10 420.37Z" fill="#ff5a0a" stroke="#000" stroke-width="1.15" stroke-linejoin="miter"/><path d="M437.20 412.34 L440.90 419.37 L433.50 419.37Z" fill="#ff5a0a" stroke="#000" stroke-width="1.15" stroke-linejoin="miter"/><path d="M441.10 415.24 L444.80 422.27 L437.40 422.27Z" fill="#ff5a0a" stroke="#000" stroke-width="1.15" stroke-linejoin="miter"/><path d="M444.20 406.64 L447.90 413.67 L440.50 413.67Z" fill="#ff5a0a" stroke="#000" stroke-width="1.15" stroke-linejoin="miter"/><path d="M447.60 401.74 L451.30 408.77 L443.90 408.77Z" fill="#ff5a0a" stroke="#000" stroke-width="1.15" stroke-linejoin="miter"/><path d="M450.90 409.74 L454.60 416.77 L447.20 416.77Z" fill="#ff5a0a" stroke="#000" stroke-width="1.15" stroke-linejoin="miter"/><path d="M454.50 409.04 L458.20 416.07 L450.80 416.07Z" fill="#ff5a0a" stroke="#000" stroke-width="1.15" stroke-linejoin="miter"/><path d="M457.90 404.44 L461.60 411.47 L454.20 411.47Z" fill="#ff5a0a" stroke="#000" stroke-width="1.15" stroke-linejoin="miter"/><path d="M461.50 414.04 L465.20 421.07 L457.80 421.07Z" fill="#ff5a0a" stroke="#000" stroke-width="1.15" stroke-linejoin="miter"/><path d="M464.90 404.44 L468.60 411.47 L461.20 411.47Z" fill="#ff5a0a" stroke="#000" stroke-width="1.15" stroke-linejoin="miter"/><path d="M468.50 410.24 L472.20 417.27 L464.80 417.27Z" fill="#ff5a0a" stroke="#000" stroke-width="1.15" stroke-linejoin="miter"/><path d="M471.90 404.44 L475.60 411.47 L468.20 411.47Z" fill="#ff5a0a" stroke="#000" stroke-width="1.15" stroke-linejoin="miter"/><path d="M475.20 411.44 L478.90 418.47 L471.50 418.47Z" fill="#ff5a0a" stroke="#000" stroke-width="1.15" stroke-linejoin="miter"/><path d="M478.60 412.84 L482.30 419.87 L474.90 419.87Z" fill="#ff5a0a" stroke="#000" stroke-width="1.15" stroke-linejoin="miter"/><path d="M603.00 415.94 L606.70 422.97 L599.30 422.97Z" fill="#ff5a0a" stroke="#000" stroke-width="1.15" stroke-linejoin="miter"/><path d="M606.30 409.74 L610.00 416.77 L602.60 416.77Z" fill="#ff5a0a" stroke="#000" stroke-width="1.15" stroke-linejoin="miter"/><path d="M609.90 419.54 L613.60 426.57 L606.20 426.57Z" fill="#ff5a0a" stroke="#000" stroke-width="1.15" stroke-linejoin="miter"/><path d="M613.40 412.44 L617.10 419.47 L609.70 419.47Z" fill="#ff5a0a" stroke="#000" stroke-width="1.15" stroke-linejoin="miter"/><path d="M616.80 413.44 L620.50 420.47 L613.10 420.47Z" fill="#ff5a0a" stroke="#000" stroke-width="1.15" stroke-linejoin="miter"/><path d="M620.00 417.14 L623.70 424.17 L616.30 424.17Z" fill="#ff5a0a" stroke="#000" stroke-width="1.15" stroke-linejoin="miter"/><path d="M623.20 418.44 L626.90 425.47 L619.50 425.47Z" fill="#ff5a0a" stroke="#000" stroke-width="1.15" stroke-linejoin="miter"/><path d="M627.10 416.24 L630.80 423.27 L623.40 423.27Z" fill="#ff5a0a" stroke="#000" stroke-width="1.15" stroke-linejoin="miter"/><path d="M633.70 404.84 L637.40 411.87 L630.00 411.87Z" fill="#ff5a0a" stroke="#000" stroke-width="1.15" stroke-linejoin="miter"/><path d="M637.40 413.74 L641.10 420.77 L633.70 420.77Z" fill="#ff5a0a" stroke="#000" stroke-width="1.15" stroke-linejoin="miter"/><path d="M640.80 409.74 L644.50 416.77 L637.10 416.77Z" fill="#ff5a0a" stroke="#000" stroke-width="1.15" stroke-linejoin="miter"/><path d="M644.50 414.94 L648.20 421.97 L640.80 421.97Z" fill="#ff5a0a" stroke="#000" stroke-width="1.15" stroke-linejoin="miter"/><path d="M647.60 409.94 L651.30 416.97 L643.90 416.97Z" fill="#ff5a0a" stroke="#000" stroke-width="1.15" stroke-linejoin="miter"/><path d="M651.30 411.34 L655.00 418.37 L647.60 418.37Z" fill="#ff5a0a" stroke="#000" stroke-width="1.15" stroke-linejoin="miter"/><line x1="65.40" y1="344.20" x2="65.40" y2="462.10" stroke="#808080" stroke-width="1.2"/><line x1="64.80" y1="462.10" x2="662.60" y2="462.10" stroke="#666" stroke-width="1.1"/><line x1="117.80" y1="462.10" x2="117.80" y2="460.50" stroke="#555" stroke-width="0.9"/><text x="117.80" y="477.80" font-size="12.8" text-anchor="middle" textLength="26.0" lengthAdjust="spacingAndGlyphs">1970</text><line x1="222.60" y1="462.10" x2="222.60" y2="460.50" stroke="#555" stroke-width="0.9"/><text x="222.60" y="477.80" font-size="12.8" text-anchor="middle" textLength="26.0" lengthAdjust="spacingAndGlyphs">1980</text><line x1="327.40" y1="462.10" x2="327.40" y2="460.50" stroke="#555" stroke-width="0.9"/><text x="327.40" y="477.80" font-size="12.8" text-anchor="middle" textLength="26.0" lengthAdjust="spacingAndGlyphs">1990</text><line x1="432.20" y1="462.10" x2="432.20" y2="460.50" stroke="#555" stroke-width="0.9"/><text x="432.20" y="477.80" font-size="12.8" text-anchor="middle" textLength="26.0" lengthAdjust="spacingAndGlyphs">2000</text><line x1="537.00" y1="462.10" x2="537.00" y2="460.50" stroke="#555" stroke-width="0.9"/><text x="537.00" y="477.80" font-size="12.8" text-anchor="middle" textLength="26.0" lengthAdjust="spacingAndGlyphs">2010</text><line x1="641.80" y1="462.10" x2="641.80" y2="460.50" stroke="#555" stroke-width="0.9"/><text x="641.80" y="477.80" font-size="12.8" text-anchor="middle" textLength="26.0" lengthAdjust="spacingAndGlyphs">2020</text><line x1="65.40" y1="352.60" x2="71.90" y2="352.60" stroke="#555" stroke-width="0.9"/><text x="55.10" y="357.20" font-size="12.8" text-anchor="end" textLength="34.8" lengthAdjust="spacingAndGlyphs">0.7675</text><line x1="65.40" y1="377.20" x2="71.90" y2="377.20" stroke="#555" stroke-width="0.9"/><text x="55.10" y="381.80" font-size="12.8" text-anchor="end" textLength="34.8" lengthAdjust="spacingAndGlyphs">0.7700</text><line x1="65.40" y1="401.80" x2="71.90" y2="401.80" stroke="#555" stroke-width="0.9"/><text x="55.10" y="406.40" font-size="12.8" text-anchor="end" textLength="34.8" lengthAdjust="spacingAndGlyphs">0.7725</text><line x1="65.40" y1="426.40" x2="71.90" y2="426.40" stroke="#555" stroke-width="0.9"/><text x="55.10" y="431.00" font-size="12.8" text-anchor="end" textLength="34.8" lengthAdjust="spacingAndGlyphs">0.7750</text><line x1="65.40" y1="451.00" x2="71.90" y2="451.00" stroke="#555" stroke-width="0.9"/><text x="55.10" y="455.60" font-size="12.8" text-anchor="end" textLength="34.8" lengthAdjust="spacingAndGlyphs">0.7775</text><text x="364" y="494.30" font-size="15.9" text-anchor="middle" textLength="29.6" lengthAdjust="spacingAndGlyphs">Year</text><text x="116.8" y="444.6" font-size="16.8" textLength="87.9" lengthAdjust="spacingAndGlyphs">Photometry</text><text x="117" y="455.9" font-size="7.1" fill="#222" textLength="131" lengthAdjust="spacingAndGlyphs">T4 Automated Photoelectric Telescope</text><text x="0" y="0" font-size="15.2" text-anchor="middle" transform="translate(13.6 403.3) rotate(-90)" textLength="64.5" lengthAdjust="spacingAndGlyphs">Δ (b+y)/2</text><rect x="384.0" y="513.00" width="96.70" height="115.40" fill="#f4f4f4"/><line x1="117.80" y1="512.80" x2="117.80" y2="630.70" stroke="#eeeeee" stroke-width="0.7"/><line x1="222.60" y1="512.80" x2="222.60" y2="630.70" stroke="#eeeeee" stroke-width="0.7"/><line x1="327.40" y1="512.80" x2="327.40" y2="630.70" stroke="#eeeeee" stroke-width="0.7"/><line x1="432.20" y1="512.80" x2="432.20" y2="630.70" stroke="#eeeeee" stroke-width="0.7"/><line x1="537.00" y1="512.80" x2="537.00" y2="630.70" stroke="#eeeeee" stroke-width="0.7"/><line x1="641.80" y1="512.80" x2="641.80" y2="630.70" stroke="#eeeeee" stroke-width="0.7"/><path d="M363.0 565.5h0M362.7 555.1h0M362.4 571.2h0M362.2 568.3h0M363.2 577.5h0M363.1 570.7h0M362.4 575.1h0M362.2 563.8h0M362.2 575.2h0M362.5 568.9h0M363.1 571.7h0M363.0 579.0h0M362.1 576.4h0M363.7 570.9h0M362.2 581.8h0M362.2 569.1h0M362.3 575.7h0M363.5 562.7h0M363.6 573.8h0M362.0 579.4h0M362.4 571.5h0M363.8 587.6h0M363.1 587.5h0M362.3 567.1h0M363.5 585.8h0M366.7 564.5h0M367.6 570.9h0M366.6 560.7h0M367.3 561.0h0M367.9 563.3h0M366.8 569.2h0M366.7 564.2h0M366.7 562.1h0M372.5 563.7h0M370.9 568.9h0M373.0 589.9h0M370.4 559.2h0M370.9 577.6h0M370.4 555.9h0M373.5 561.4h0M372.2 571.7h0M373.7 545.2h0M371.6 559.8h0M373.8 571.9h0M371.7 568.3h0M372.6 566.3h0M372.6 567.6h0M370.4 569.5h0M370.9 555.3h0M371.4 566.7h0M371.3 545.8h0M374.2 563.1h0M372.5 586.0h0M373.3 573.8h0M371.7 571.8h0M374.0 556.9h0M373.3 567.4h0M372.8 550.3h0M372.4 574.1h0M371.6 566.0h0M371.7 569.8h0M371.2 567.6h0M373.7 567.7h0M376.9 547.5h0M376.1 549.4h0M376.6 548.8h0M377.9 550.9h0M376.2 546.4h0M377.2 545.9h0M377.5 548.6h0M377.0 544.6h0M381.8 563.8h0M381.4 564.2h0M382.6 561.2h0M383.6 571.1h0M381.5 583.1h0M383.6 570.2h0M382.3 553.5h0M381.5 571.9h0M385.3 559.1h0M382.2 571.2h0M382.6 559.3h0M380.8 574.0h0M382.2 568.0h0M383.6 564.5h0M385.3 565.7h0M385.6 557.8h0M382.2 558.8h0M381.3 565.8h0M384.7 562.8h0M383.3 556.8h0M383.6 562.4h0M384.4 562.9h0M384.5 555.1h0M384.5 563.7h0M381.9 568.6h0M380.5 564.3h0M383.9 560.3h0M385.6 565.6h0M380.6 562.8h0M380.8 561.7h0M388.9 563.1h0M387.3 563.4h0M387.3 550.3h0M388.6 571.9h0M388.3 563.7h0M388.6 558.4h0M387.2 548.0h0M388.3 576.7h0M388.7 558.5h0M388.8 569.3h0M387.4 561.9h0M387.5 565.0h0M388.5 556.8h0M389.0 568.7h0M388.1 572.8h0M393.1 580.5h0M393.1 554.5h0M393.9 550.8h0M394.7 556.6h0M395.5 568.9h0M395.5 568.8h0M392.7 588.3h0M393.2 551.3h0M392.4 543.9h0M395.6 565.7h0M392.7 547.6h0M393.4 575.7h0M395.5 545.0h0M392.9 574.5h0M392.2 562.6h0M392.9 567.2h0M396.0 566.9h0M395.5 562.0h0M393.7 566.3h0M394.7 565.3h0M392.4 557.2h0M394.0 559.2h0M392.9 583.2h0M394.9 568.6h0M392.3 571.3h0M398.8 555.5h0M397.8 561.6h0M398.8 557.4h0M399.1 566.0h0M399.2 557.1h0M399.6 561.7h0M398.5 565.9h0M397.8 567.0h0M398.3 556.0h0M398.3 567.8h0M402.5 594.1h0M405.6 577.0h0M404.6 572.5h0M403.3 554.0h0M405.0 580.1h0M404.4 566.0h0M404.5 573.4h0M404.8 568.0h0M404.7 577.6h0M404.5 581.5h0M403.1 578.2h0M404.9 591.1h0M403.9 591.8h0M404.1 594.7h0M404.1 566.2h0M402.7 577.5h0M404.6 599.7h0M405.5 567.7h0M405.3 590.5h0M402.6 585.9h0M405.2 584.4h0M403.8 556.6h0M404.8 597.2h0M403.9 592.8h0M402.6 572.7h0M409.4 571.9h0M408.8 583.5h0M408.2 582.8h0M410.1 579.5h0M408.6 579.5h0M409.8 561.4h0M409.0 583.9h0M408.8 574.1h0M409.1 575.7h0M409.0 594.3h0M408.7 570.2h0M409.6 560.8h0M411.1 570.6h0M409.9 591.1h0M408.8 584.0h0M409.3 591.4h0M407.5 567.8h0M410.6 579.8h0M409.2 574.3h0M409.3 583.6h0M410.2 565.5h0M407.6 580.4h0M410.3 556.9h0M408.2 579.2h0M407.7 581.0h0M413.3 579.7h0M415.2 568.1h0M416.2 550.5h0M416.8 556.5h0M414.5 558.8h0M413.0 561.8h0M414.2 570.6h0M415.6 584.5h0M414.9 566.4h0M416.7 561.0h0M413.9 583.9h0M415.5 563.3h0M415.7 572.8h0M416.7 578.6h0M413.2 566.8h0M415.5 565.5h0M414.3 562.5h0M416.3 574.8h0M415.1 568.7h0M417.0 568.6h0M415.0 552.5h0M417.0 567.5h0M417.2 568.6h0M416.7 566.3h0M414.4 561.9h0M420.8 578.8h0M418.0 572.0h0M420.6 570.7h0M420.1 583.8h0M418.2 568.3h0M420.2 577.6h0M418.5 569.3h0M418.8 583.7h0M418.8 559.2h0M420.6 569.7h0M417.7 587.8h0M420.0 571.4h0M419.4 571.4h0M420.2 573.6h0M420.7 596.2h0M421.2 563.2h0M418.7 574.5h0M421.1 565.9h0M419.4 578.8h0M419.7 578.2h0M421.0 562.5h0M421.1 579.0h0M419.9 567.6h0M421.2 554.7h0M418.9 574.7h0M423.1 570.4h0M422.9 589.5h0M422.9 580.6h0M423.8 569.8h0M423.9 576.4h0M424.0 575.7h0M423.6 565.1h0M423.1 571.8h0M424.6 577.7h0M423.0 580.9h0M423.8 576.2h0M423.0 582.7h0M423.9 585.6h0M423.2 579.5h0M423.3 578.6h0M429.4 579.0h0M429.8 577.7h0M428.0 565.9h0M428.4 575.1h0M425.8 577.1h0M425.1 556.8h0M427.2 564.5h0M428.1 567.9h0M424.8 577.4h0M427.5 589.3h0M425.5 573.5h0M429.6 575.0h0M429.8 572.6h0M424.8 583.2h0M424.1 577.0h0M424.0 576.5h0M430.0 588.2h0M426.5 581.8h0M428.6 586.4h0M427.6 565.1h0M430.9 608.1h0M430.7 621.8h0M430.6 604.0h0M431.0 627.1h0M430.8 624.0h0M430.4 626.0h0M431.0 626.1h0M429.7 615.9h0M431.3 623.6h0M429.6 606.9h0M429.5 613.2h0M429.6 621.3h0M430.7 610.8h0M430.9 620.5h0M440.6 580.2h0M434.4 597.8h0M436.2 590.3h0M433.8 573.6h0M433.9 586.7h0M438.2 577.4h0M436.2 576.0h0M438.3 594.5h0M434.4 581.8h0M438.6 568.4h0M438.7 577.0h0M439.7 581.7h0M436.4 601.0h0M440.2 600.1h0M436.6 591.8h0M440.9 581.8h0M439.8 583.8h0M435.1 582.1h0M439.6 584.0h0M436.3 571.1h0M437.5 579.6h0M440.5 590.8h0M434.3 581.7h0M440.7 578.9h0M436.5 575.8h0M446.7 580.4h0M445.2 554.8h0M447.5 583.8h0M445.6 603.2h0M447.0 553.5h0M445.1 600.0h0M444.2 574.6h0M446.3 568.0h0M446.6 590.5h0M447.2 570.8h0M448.2 598.2h0M446.7 577.7h0M448.1 591.6h0M444.8 564.4h0M447.3 572.3h0M444.2 584.6h0M447.0 576.5h0M445.0 577.7h0M448.1 562.4h0M445.0 562.9h0M445.0 589.6h0M444.0 573.0h0M448.1 586.4h0M444.5 577.6h0M447.5 596.7h0M454.1 581.1h0M455.9 591.7h0M453.9 572.6h0M458.4 578.3h0M453.7 560.8h0M457.8 590.7h0M454.4 570.6h0M453.6 569.2h0M456.7 577.1h0M457.6 577.1h0M458.8 589.1h0M457.4 590.5h0M458.6 573.9h0M454.7 574.2h0M453.2 582.1h0M455.6 598.2h0M452.8 587.6h0M455.5 588.0h0M456.0 583.8h0M456.0 587.9h0M457.9 570.2h0M456.7 580.8h0M458.3 591.3h0M457.7 597.2h0M452.8 589.6h0M456.2 589.7h0M457.8 584.8h0M453.4 589.8h0M467.3 574.6h0M465.3 586.8h0M466.3 591.0h0M461.3 581.0h0M460.7 568.4h0M460.6 563.8h0M461.9 573.8h0M462.7 576.3h0M461.9 568.1h0M466.3 582.4h0M460.5 560.2h0M463.9 590.2h0M465.5 584.7h0M463.2 576.3h0M466.5 594.0h0M467.2 578.0h0M467.4 576.9h0M463.6 589.8h0M463.6 581.3h0M461.7 579.8h0M465.6 585.4h0M463.5 579.4h0M462.2 576.2h0M465.3 591.5h0M467.1 590.4h0M465.5 581.1h0M466.5 586.4h0M462.2 581.9h0M471.6 600.8h0M472.9 585.6h0M478.6 581.4h0M471.0 588.1h0M471.5 582.0h0M479.5 593.7h0M474.6 569.6h0M471.0 578.9h0M472.4 582.8h0M478.7 599.1h0M479.4 582.4h0M477.8 569.8h0M470.1 577.2h0M475.6 594.4h0M477.5 583.7h0M470.4 584.3h0M470.7 574.2h0M474.7 572.4h0M472.3 578.8h0M471.0 574.2h0M471.2 575.4h0M476.1 580.9h0M470.6 566.9h0M474.5 585.2h0M476.5 573.7h0M476.2 582.0h0M471.4 586.6h0M470.6 587.4h0M473.8 594.7h0M476.1 566.4h0M612.6 598.3h0M612.4 584.9h0M613.1 573.2h0M614.7 591.3h0M615.5 586.1h0M614.9 586.4h0M615.7 571.8h0M615.1 581.9h0M615.1 603.2h0M612.3 587.7h0M615.2 590.5h0M614.4 567.1h0M612.5 576.3h0M613.7 585.0h0M614.9 591.6h0M613.9 573.8h0M614.6 582.2h0M615.7 579.0h0M612.6 600.3h0M615.3 586.8h0M613.6 585.6h0M614.4 596.9h0M612.3 581.3h0M612.7 589.5h0M614.1 581.3h0M614.4 603.2h0M614.9 603.1h0M615.2 565.1h0M614.7 582.3h0M615.4 592.5h0M614.8 582.6h0M613.4 583.9h0M613.9 591.9h0M615.6 599.8h0M615.8 575.6h0M613.2 564.7h0M613.1 603.4h0M613.5 597.1h0M615.4 586.7h0M612.7 577.3h0M614.5 586.9h0M615.7 588.2h0M614.2 587.0h0M615.6 603.1h0M614.7 567.7h0M613.0 586.3h0M613.2 606.4h0M612.9 593.3h0M614.7 596.2h0M613.2 584.6h0M612.4 572.8h0M613.2 591.5h0M614.4 589.5h0M614.7 587.8h0M612.4 569.9h0M612.7 605.5h0M614.7 586.3h0M615.0 590.2h0M613.7 582.9h0M614.8 588.9h0M615.6 586.2h0M615.2 583.7h0M615.3 592.6h0M613.3 591.0h0M612.9 589.0h0M614.6 599.8h0M612.8 592.3h0M614.6 573.4h0M612.5 584.5h0M615.3 591.9h0M614.8 583.7h0M615.1 579.5h0M612.7 591.8h0M615.1 576.4h0M613.1 593.6h0M613.1 579.5h0M614.5 601.2h0M612.5 599.8h0M613.1 582.0h0M613.9 567.8h0M623.0 574.6h0M623.4 572.2h0M622.8 587.1h0M625.9 570.2h0M623.4 591.1h0M625.6 603.7h0M623.0 589.5h0M623.4 589.8h0M625.6 593.3h0M625.8 598.3h0M622.9 580.7h0M623.3 582.6h0M623.0 587.7h0M623.2 591.2h0M624.9 568.2h0M624.2 590.0h0M623.4 592.9h0M624.9 594.1h0M625.2 582.8h0M625.8 572.3h0M623.4 605.5h0M622.9 595.9h0M623.1 590.2h0M625.2 607.1h0M624.0 567.7h0M625.9 580.1h0M625.9 609.4h0M624.8 589.7h0M625.5 596.3h0M623.4 580.9h0M624.0 588.4h0M624.9 585.5h0M625.5 591.4h0M624.7 579.7h0M625.1 591.0h0M623.4 592.4h0M623.1 591.9h0M625.7 587.5h0M623.4 581.8h0M624.0 595.3h0M625.6 578.6h0M625.9 569.4h0M625.8 584.5h0M622.7 584.0h0M625.6 589.7h0M625.6 595.0h0M624.4 606.4h0M623.5 592.1h0M625.4 608.1h0M623.3 595.8h0M623.2 578.1h0M623.4 589.5h0M625.0 582.9h0M625.2 587.2h0M625.0 567.6h0M624.3 597.3h0M624.9 600.5h0M623.4 607.9h0M623.3 608.1h0M625.8 585.2h0M625.2 595.4h0M625.3 589.3h0M623.5 593.3h0M623.1 585.1h0M622.9 607.3h0M624.6 597.1h0M624.1 587.1h0M625.0 588.6h0M623.9 599.8h0M625.5 594.2h0M625.1 575.5h0M625.3 588.0h0M624.7 604.4h0M624.7 601.6h0M622.7 598.0h0M623.6 592.8h0M625.0 588.6h0M623.4 583.4h0M622.7 568.2h0M625.9 573.5h0M635.4 579.0h0M635.5 576.3h0M634.9 588.3h0M635.9 576.5h0M636.1 579.9h0M635.6 589.4h0M636.4 567.4h0M635.1 581.8h0M636.0 590.5h0M635.0 573.4h0M636.0 599.2h0M635.2 574.4h0M635.9 571.1h0M635.1 569.8h0M635.9 586.3h0M635.7 566.5h0M636.0 594.2h0M635.3 594.9h0M635.8 574.0h0M635.3 576.4h0M635.1 588.5h0M636.0 599.4h0M635.3 573.4h0M636.0 584.3h0M634.9 571.7h0M636.4 585.1h0M635.1 584.7h0M635.7 580.8h0M636.0 598.5h0M635.0 580.5h0M635.2 574.7h0M635.3 595.8h0M636.1 584.4h0M636.4 591.8h0M635.0 592.6h0M635.3 592.1h0M636.5 570.7h0M635.6 578.1h0M634.9 598.3h0M635.5 584.2h0M636.4 588.7h0M635.3 571.0h0M635.0 591.2h0M636.2 594.3h0M635.1 583.5h0M635.4 587.6h0M635.0 605.8h0M636.1 604.1h0M635.6 591.2h0M635.3 596.0h0M636.0 593.0h0M635.0 579.8h0M635.2 603.6h0M635.6 571.6h0M636.3 592.2h0M635.4 597.2h0M635.5 602.3h0M635.8 587.5h0M636.3 579.3h0M636.2 576.6h0M639.3 575.9h0M639.3 573.4h0M639.1 577.8h0M639.7 588.7h0M639.1 590.3h0M640.3 588.7h0M640.0 577.7h0M640.0 576.3h0M639.6 582.7h0M640.1 592.6h0M638.9 588.4h0M639.8 566.2h0M640.1 579.2h0M639.2 589.6h0M640.1 576.2h0M639.2 584.4h0M638.7 571.9h0M638.8 583.4h0M639.9 575.4h0M640.0 574.6h0M639.7 579.7h0M640.1 574.6h0M647.0 569.8h0M645.7 589.8h0M645.3 607.3h0M646.1 590.8h0M644.8 611.1h0M646.2 590.7h0M645.7 599.4h0M645.0 587.8h0M645.5 602.9h0M644.7 588.4h0M644.1 612.7h0M645.1 599.1h0M647.2 574.4h0M644.5 588.3h0M645.6 597.1h0M643.8 613.1h0M645.6 573.6h0M647.1 601.5h0M646.9 609.4h0M644.1 583.7h0M645.4 608.3h0M647.3 609.8h0M645.6 579.0h0M645.0 577.2h0M644.4 589.5h0M645.2 578.2h0M643.2 586.1h0M644.2 575.8h0M645.4 575.0h0M644.1 599.6h0M646.4 599.1h0M644.4 609.5h0M643.4 586.1h0M643.6 578.4h0M646.6 571.6h0M645.2 613.0h0M644.6 576.6h0M644.1 579.4h0M644.5 594.9h0M644.1 591.4h0M645.4 595.5h0M645.3 611.8h0M645.3 587.5h0M644.1 571.7h0M643.9 582.6h0M644.9 585.3h0M644.7 583.7h0M643.9 592.4h0M643.2 600.0h0M644.7 609.2h0M644.9 579.1h0M645.6 600.3h0M647.3 568.8h0M644.8 603.0h0M645.7 581.2h0M647.3 584.2h0M644.0 600.5h0M643.3 580.2h0M645.3 582.3h0M647.0 570.7h0M645.9 580.8h0M644.9 602.7h0M644.3 583.5h0M644.8 590.8h0M644.4 585.2h0M646.7 588.3h0M644.0 587.3h0M646.7 589.3h0M644.3 599.6h0M647.1 591.4h0M604.5 572.1h0M604.5 576.5h0M604.5 594.5h0M604.5 596.5h0M608.2 601.5h0M617.5 572.5h0M618.5 583.5h0M618.0 598.5h0M650.2 563.3h0M650.2 571.5h0M650.2 576.5h0M650.2 594.5h0M650.2 606.3h0M619.0 563.5h0M609.0 608.5h0M629.0 605.5h0M363.2 572.6h0M359.5 578.1h0M359.9 565.1h0M362.4 575.1h0M359.5 562.6h0M362.9 569.8h0M363.4 557.4h0M359.3 573.9h0M359.2 571.1h0M362.2 566.5h0M359.8 566.3h0M359.9 559.1h0M363.4 561.0h0M360.7 579.0h0M364.4 569.0h0M363.8 573.0h0M367.1 594.5h0M365.8 572.9h0M363.4 575.4h0M364.2 570.0h0M365.0 567.2h0M365.7 579.8h0M366.2 572.3h0M365.2 552.6h0M365.3 575.9h0M364.2 553.2h0M366.5 583.4h0M366.7 565.7h0M367.2 567.6h0M368.1 569.2h0M369.9 568.7h0M369.9 568.5h0M369.9 569.4h0M368.2 563.8h0M369.6 559.3h0M368.2 591.2h0M370.5 563.9h0M369.1 566.0h0M367.6 577.5h0M370.4 573.7h0M370.0 554.2h0M370.8 566.5h0M373.6 563.1h0M371.5 566.3h0M374.1 567.0h0M372.5 567.2h0M370.7 590.5h0M374.4 570.6h0M373.6 565.3h0M372.8 580.4h0M372.2 563.8h0M374.4 583.7h0M370.8 578.5h0M371.5 584.2h0M372.2 582.3h0M373.5 569.8h0M376.1 578.6h0M373.6 549.6h0M374.1 564.6h0M376.1 562.5h0M377.2 572.5h0M377.3 573.5h0M375.7 563.9h0M376.8 564.5h0M377.0 554.1h0M375.0 573.7h0M373.7 560.9h0M376.5 572.3h0M373.4 574.7h0M377.5 549.7h0M377.4 554.1h0M379.6 553.0h0M380.4 562.7h0M376.9 554.1h0M380.5 558.4h0M380.7 567.7h0M378.9 560.1h0M380.0 556.8h0M380.9 549.7h0M377.6 568.7h0M377.3 570.4h0M377.6 549.8h0M377.5 557.9h0M380.9 542.3h0M381.1 565.8h0M384.0 566.7h0M382.7 582.5h0M384.3 564.9h0M382.3 550.6h0M383.8 559.4h0M384.0 564.6h0M383.5 557.0h0M381.0 549.7h0M382.0 573.4h0M384.1 542.6h0M380.7 558.6h0M381.8 552.7h0M380.7 569.8h0M385.7 576.0h0M384.7 560.6h0M386.9 576.8h0M386.1 578.1h0M385.1 584.3h0M387.7 573.2h0M386.1 567.7h0M387.8 559.8h0M384.9 575.8h0M383.6 569.6h0M384.8 572.7h0M386.3 548.1h0M386.5 559.9h0M385.1 580.4h0M389.4 557.7h0M390.8 557.6h0M389.7 554.2h0M388.3 568.3h0M391.3 560.4h0M387.3 573.1h0M387.9 562.4h0M389.2 574.3h0M389.9 573.3h0M390.0 586.8h0M390.0 549.2h0M390.1 564.6h0M388.9 561.7h0M391.3 557.2h0M390.5 577.0h0M392.3 576.0h0M394.1 559.3h0M390.6 567.9h0M394.2 571.6h0M390.9 572.7h0M394.4 563.3h0M392.8 555.8h0M392.3 587.2h0M393.6 581.7h0M394.8 573.2h0M391.0 566.0h0M391.2 559.1h0M392.1 554.5h0M398.3 554.5h0M398.3 564.1h0M394.6 564.3h0M397.1 565.4h0M397.9 570.8h0M395.0 576.8h0M394.6 577.6h0M396.5 575.2h0M396.1 568.5h0M396.4 564.9h0M396.3 570.1h0M394.0 582.3h0M394.9 576.9h0M397.2 574.4h0M398.3 576.6h0M397.6 551.0h0M398.7 561.1h0M400.6 562.1h0M400.9 573.0h0M399.2 539.4h0M399.9 559.4h0M398.0 563.2h0M398.7 561.4h0M397.6 554.2h0M398.6 552.2h0M399.5 566.0h0M397.9 557.2h0M398.5 550.9h0M404.2 586.7h0M403.0 570.5h0M401.6 571.5h0M404.8 566.0h0M403.9 564.9h0M401.4 561.0h0M401.6 568.7h0M404.4 566.9h0M401.8 558.6h0M404.0 557.0h0M401.5 574.5h0M405.1 575.5h0M402.9 569.2h0M402.0 580.8h0M408.7 594.7h0M405.8 586.1h0M405.3 600.8h0M406.1 583.9h0M405.0 578.7h0M404.6 561.5h0M408.3 580.2h0M404.7 577.1h0M405.2 587.3h0M407.2 571.1h0M405.6 588.0h0M408.4 591.5h0M404.9 578.1h0M406.4 597.1h0M410.9 593.5h0M410.3 586.4h0M410.9 583.3h0M411.3 589.7h0M408.0 588.9h0M410.4 582.3h0M410.9 575.5h0M409.4 582.0h0M412.1 576.7h0M409.7 587.6h0M411.0 583.8h0M411.6 580.3h0M411.6 579.7h0M411.0 590.3h0M414.3 586.0h0M411.3 588.3h0M415.1 582.4h0M415.7 572.0h0M414.8 598.1h0M415.1 560.0h0M414.1 567.7h0M415.5 574.7h0M413.6 577.8h0M413.4 575.7h0M413.5 587.6h0M413.9 581.4h0M413.5 587.3h0M413.5 568.6h0M415.2 574.0h0M416.7 565.0h0M417.5 582.7h0M417.8 560.7h0M418.5 566.8h0M416.6 562.2h0M416.2 572.8h0M417.5 571.8h0M417.6 558.1h0M415.3 559.4h0M415.7 570.0h0M416.0 567.9h0M415.3 552.9h0M415.4 570.3h0M420.9 557.6h0M420.7 567.9h0M418.2 563.7h0M419.5 592.9h0M420.2 575.0h0M420.8 586.3h0M418.9 567.0h0M419.4 582.8h0M421.1 580.5h0M420.0 565.5h0M420.0 575.6h0M421.0 584.2h0M421.7 559.7h0M419.8 563.5h0M425.7 583.0h0M422.2 583.3h0M425.5 585.4h0M425.2 570.7h0M425.3 594.6h0M423.3 584.8h0M423.0 593.8h0M421.9 587.2h0M423.1 573.7h0M424.0 579.2h0M423.1 581.1h0M423.1 588.0h0M424.7 579.9h0M422.9 573.9h0M425.7 572.7h0M425.0 578.4h0M426.2 573.1h0M425.8 596.2h0M425.9 568.5h0M427.5 577.0h0M425.1 580.5h0M426.3 576.6h0M427.1 574.5h0M425.4 585.9h0M426.7 591.7h0M426.5 587.8h0M429.2 581.5h0M426.0 588.3h0M430.8 603.5h0M429.9 624.4h0M431.8 612.6h0M429.4 610.5h0M432.5 598.7h0M428.4 604.1h0M430.9 613.2h0M431.6 615.0h0M429.9 599.3h0M431.7 614.3h0M431.5 613.1h0M430.1 612.7h0M430.2 608.6h0M429.1 612.8h0M432.0 585.6h0M433.2 575.7h0M432.9 589.9h0M434.7 560.1h0M432.3 582.9h0M433.8 576.8h0M435.4 585.8h0M432.5 591.6h0M433.1 579.6h0M434.3 578.7h0M432.0 582.6h0M435.8 582.5h0M434.5 588.7h0M433.9 581.7h0M438.7 591.6h0M436.5 564.9h0M436.6 595.7h0M436.8 591.5h0M437.9 595.8h0M437.0 579.1h0M438.5 588.2h0M437.0 588.8h0M438.2 576.9h0M435.1 588.8h0M438.0 607.0h0M438.0 574.3h0M435.9 584.7h0M435.8 576.0h0M440.0 576.4h0M441.7 595.5h0M439.7 596.8h0M441.1 582.9h0M439.5 597.9h0M441.0 583.8h0M440.3 584.2h0M441.9 575.5h0M442.3 583.8h0M441.4 589.1h0M442.6 597.0h0M441.4 587.6h0M440.9 578.8h0M443.2 593.1h0M442.5 567.0h0M444.7 599.3h0M446.3 583.1h0M445.2 576.9h0M442.8 596.1h0M445.6 577.2h0M445.9 578.6h0M443.9 585.4h0M444.3 566.8h0M445.8 584.4h0M443.5 597.2h0M442.1 577.1h0M442.3 581.6h0M444.7 582.7h0M446.7 577.6h0M446.6 591.0h0M449.2 564.5h0M449.8 559.0h0M446.6 579.8h0M449.5 579.3h0M446.4 560.3h0M445.8 584.1h0M448.1 568.7h0M449.2 582.6h0M447.4 584.8h0M448.9 568.2h0M449.6 575.5h0M446.6 573.4h0M449.8 564.9h0M451.8 576.8h0M449.7 585.8h0M452.9 574.6h0M450.9 589.8h0M448.8 582.2h0M452.6 567.0h0M450.3 584.0h0M451.9 590.0h0M451.6 572.8h0M449.4 588.0h0M452.7 571.4h0M452.2 583.8h0M449.6 580.5h0M455.9 572.9h0M452.7 579.1h0M454.4 593.8h0M454.0 575.6h0M454.2 578.2h0M452.3 583.3h0M456.0 574.6h0M454.7 571.1h0M452.9 573.7h0M455.7 576.5h0M455.8 598.5h0M455.3 585.0h0M455.3 572.4h0M456.5 582.7h0M457.5 580.4h0M457.9 580.4h0M459.5 581.7h0M457.4 580.0h0M458.2 581.2h0M456.5 565.6h0M457.6 578.3h0M457.9 577.5h0M459.8 575.2h0M456.6 591.5h0M458.2 580.3h0M458.1 579.8h0M457.0 592.0h0M458.9 578.2h0M462.2 597.8h0M460.9 582.9h0M462.1 586.6h0M462.3 592.7h0M462.5 595.6h0M459.7 595.8h0M459.5 570.8h0M460.4 592.1h0M459.7 589.7h0M461.5 586.2h0M461.3 593.8h0M460.9 589.7h0M459.8 572.2h0M460.3 594.2h0M463.2 577.0h0M465.8 582.2h0M463.6 550.6h0M462.9 577.0h0M466.8 567.3h0M464.4 575.3h0M466.9 579.8h0M465.0 567.6h0M466.1 580.1h0M466.4 571.0h0M464.5 577.4h0M466.6 565.5h0M465.2 583.9h0M464.7 570.6h0M468.8 579.3h0M470.1 590.0h0M470.2 586.6h0M470.6 595.0h0M469.1 583.5h0M470.0 577.7h0M467.6 583.3h0M469.4 581.6h0M469.1 576.4h0M469.2 581.4h0M468.2 580.8h0M467.7 575.7h0M466.9 577.7h0M469.2 578.7h0M471.0 592.1h0M472.1 578.2h0M472.9 572.4h0M470.0 578.5h0M472.9 575.8h0M471.3 580.5h0M471.9 584.8h0M471.5 584.5h0M471.0 584.2h0M474.0 569.5h0M470.7 583.0h0M474.0 570.9h0M473.4 588.3h0M471.4 576.8h0M473.5 576.3h0M473.2 566.2h0M473.9 589.4h0M474.9 584.2h0M473.7 576.4h0M475.3 564.6h0M476.9 593.2h0M474.0 574.9h0M473.1 580.1h0M475.0 590.2h0M475.6 579.7h0M476.1 602.5h0M473.5 591.5h0M474.3 583.2h0M478.1 583.3h0M477.0 583.4h0M477.1 585.3h0M477.4 588.4h0M477.3 586.9h0M478.7 595.9h0M478.2 597.7h0M477.5 586.0h0M476.6 602.2h0M479.7 602.7h0M478.2 597.5h0M479.0 587.7h0M476.7 581.9h0M479.5 572.7h0" fill="none" stroke="#ffa868" stroke-width="1.9" stroke-linecap="round"/><path d="M83.2 532.5h0M82.1 554.8h0M102.0 560.8h0M91.3 575.1h0M91.3 586.3h0M122.6 561.2h0M123.0 566.0h0M124.0 578.0h0M132.6 573.4h0M133.2 583.9h0M133.2 587.1h0M143.2 574.7h0M147.0 577.0h0M153.4 574.4h0M164.2 575.3h0M164.2 588.0h0M175.5 563.4h0M175.5 566.0h0M175.1 576.5h0M175.1 580.2h0M174.0 583.9h0M194.2 564.5h0M196.7 546.5h0M194.0 559.0h0M194.0 564.2h0M204.9 538.7h0M207.9 532.3h0M204.7 548.1h0M205.7 560.1h0M206.8 563.1h0M217.0 539.0h0M217.0 543.5h0M217.0 551.1h0M185.0 567.5h0M188.0 580.5h0M110.0 589.5h0M113.0 571.5h0M127.0 568.5h0M147.0 585.5h0M157.0 587.5h0M168.0 587.5h0M100.0 575.5h0M120.0 575.5h0M137.0 577.5h0M150.0 584.5h0M171.0 576.5h0M180.0 574.5h0M192.0 565.5h0M199.0 557.5h0M212.0 543.5h0M210.0 549.5h0M228.6 523.0h0M229.1 522.9h0M227.9 525.6h0M228.0 524.0h0M228.8 535.2h0M228.2 573.1h0M229.2 554.8h0M230.1 552.1h0M227.9 547.4h0M228.0 558.9h0M228.6 565.7h0M227.7 555.7h0M228.8 563.6h0M229.3 548.3h0M229.6 565.5h0M229.2 561.3h0M228.4 534.9h0M228.8 536.5h0M229.0 543.7h0M229.5 555.9h0M230.1 549.0h0M229.2 542.8h0M230.0 551.3h0M229.5 549.2h0M230.5 542.6h0M228.7 530.5h0M228.9 541.9h0M227.9 553.0h0M228.2 548.5h0M230.1 543.3h0M230.2 569.2h0M228.3 555.5h0M228.6 573.6h0M228.0 553.1h0M229.0 541.6h0M227.5 558.1h0M228.6 573.3h0M229.6 544.0h0M227.7 565.4h0M230.1 547.5h0M228.7 544.7h0M229.4 557.3h0M228.0 554.7h0M227.7 554.6h0M228.6 555.4h0M230.1 536.3h0M228.3 549.9h0M230.0 550.9h0M229.0 555.5h0M227.8 551.2h0M228.0 566.8h0M230.4 558.3h0M227.6 560.1h0M230.4 561.5h0M228.3 559.1h0M229.1 544.7h0M228.2 574.8h0M230.1 567.1h0M229.7 563.9h0M229.1 554.3h0M228.3 552.8h0M229.6 550.1h0M230.3 573.4h0M228.6 553.2h0M236.7 521.9h0M239.0 520.2h0M238.4 517.0h0M238.5 556.1h0M238.9 549.5h0M237.0 564.3h0M237.3 555.4h0M239.8 529.8h0M236.1 554.7h0M236.2 564.7h0M238.5 536.7h0M238.0 563.0h0M238.4 545.7h0M239.7 553.3h0M236.4 534.3h0M236.8 539.2h0M237.4 541.1h0M239.6 534.8h0M239.6 546.5h0M239.6 535.4h0M235.6 542.3h0M236.3 545.3h0M237.6 546.4h0M237.0 539.8h0M238.0 527.1h0M238.0 541.9h0M237.8 555.2h0M239.6 556.2h0M238.3 533.0h0M237.5 543.2h0M237.7 552.6h0M239.4 533.7h0M238.0 558.6h0M236.1 541.4h0M236.6 545.0h0M238.5 561.1h0M236.2 550.9h0M236.1 564.1h0M236.5 539.6h0M237.7 558.3h0M236.2 537.5h0M236.4 543.4h0M238.7 536.7h0M235.6 541.4h0M238.3 563.1h0M239.0 527.0h0M236.7 552.2h0M239.0 549.2h0M239.6 533.6h0M236.2 547.0h0M238.7 549.5h0M235.8 540.8h0M235.8 549.8h0M239.1 545.6h0M239.4 541.9h0M237.0 562.3h0M236.7 538.8h0M236.0 543.1h0M235.7 541.7h0M238.9 549.7h0M237.8 543.2h0M236.6 545.1h0M238.8 530.6h0M237.6 527.1h0M239.2 530.4h0M237.3 544.4h0M238.6 537.2h0M239.2 549.8h0M237.4 571.3h0M236.2 568.1h0M236.6 570.8h0M238.9 572.2h0M237.0 570.0h0M236.6 572.3h0M236.9 575.2h0M237.9 571.9h0M247.4 559.5h0M247.5 556.7h0M248.0 560.4h0M247.1 559.2h0M246.1 561.5h0M246.9 561.5h0M249.0 567.8h0M249.5 553.0h0M246.6 565.4h0M246.2 573.8h0M248.5 571.1h0M246.6 575.0h0M248.0 570.9h0M249.3 573.9h0M248.7 551.3h0M246.1 558.8h0M249.3 564.8h0M248.5 560.1h0M246.0 568.9h0M248.0 562.5h0M248.6 560.1h0M246.3 556.2h0M248.9 559.5h0M248.0 545.1h0M247.9 569.6h0M248.5 546.1h0M246.6 560.3h0M248.3 555.7h0M246.2 556.4h0M248.7 552.8h0M248.1 557.7h0M249.6 561.1h0M249.9 544.1h0M247.8 576.4h0M247.8 563.9h0M246.8 548.3h0M248.1 548.0h0M249.3 573.7h0M249.5 551.4h0M249.6 561.0h0M248.0 560.6h0M247.2 557.8h0M249.4 564.6h0M249.0 547.6h0M249.7 574.2h0M247.2 544.3h0M248.4 573.4h0M247.7 563.0h0M249.3 561.3h0M249.7 559.8h0M247.1 568.8h0M249.4 573.6h0M248.4 579.0h0M248.1 541.6h0M248.7 560.7h0M247.4 550.4h0M249.3 554.2h0M247.4 580.5h0M258.8 525.3h0M259.7 531.2h0M258.5 533.0h0M259.5 539.6h0M260.7 529.2h0M258.4 533.8h0M258.3 532.6h0M258.8 540.6h0M260.2 526.0h0M259.1 533.2h0M257.7 569.8h0M259.5 582.3h0M258.3 565.2h0M258.4 548.5h0M261.0 544.5h0M257.5 583.8h0M259.4 543.5h0M259.0 580.7h0M261.0 554.7h0M257.9 572.2h0M259.6 585.9h0M260.4 577.9h0M259.3 545.3h0M260.7 575.5h0M258.7 560.8h0M258.5 574.9h0M257.9 556.2h0M259.0 564.5h0M259.9 563.3h0M261.4 583.3h0M259.4 573.9h0M258.4 575.2h0M258.7 554.8h0M259.2 566.1h0M260.2 553.7h0M257.5 556.0h0M258.2 576.8h0M259.5 571.4h0M261.5 568.3h0M258.3 556.8h0M261.4 561.1h0M258.2 556.4h0M261.4 571.5h0M259.1 570.1h0M257.6 565.3h0M259.1 583.3h0M260.5 585.4h0M258.8 577.4h0M257.5 560.5h0M259.0 561.1h0M258.1 564.7h0M261.4 572.9h0M261.4 557.4h0M260.9 576.9h0M257.6 554.3h0M258.2 578.1h0M261.2 554.4h0M260.6 573.3h0M257.5 571.1h0M260.5 558.8h0M258.5 571.3h0M258.5 557.7h0M258.6 563.2h0M260.6 572.0h0M261.4 566.9h0M261.4 560.9h0M258.5 574.5h0M259.5 551.7h0M260.8 580.5h0M260.6 558.3h0M258.7 566.6h0M258.2 554.6h0M257.7 563.0h0M259.7 581.4h0M261.5 564.1h0M257.8 554.2h0M259.3 566.1h0M259.2 573.8h0M260.5 573.4h0M257.9 556.7h0M269.0 571.2h0M267.9 568.0h0M267.6 574.0h0M268.2 577.8h0M267.8 576.4h0M270.6 571.2h0M268.7 582.4h0M270.3 570.8h0M267.7 574.2h0M270.3 574.1h0M270.1 570.9h0M270.4 580.7h0M269.1 562.5h0M268.3 572.7h0M269.2 562.0h0M267.0 575.4h0M269.4 570.1h0M269.9 574.8h0M267.2 566.2h0M269.3 575.6h0M267.6 568.6h0M268.0 575.9h0M269.0 570.2h0M268.5 587.4h0M268.3 571.0h0M267.0 569.1h0M270.0 567.9h0M270.2 572.0h0M269.0 584.6h0M267.3 567.4h0M268.8 572.3h0M268.0 573.8h0M268.8 586.4h0M267.7 570.3h0M270.4 570.9h0M267.2 567.9h0M270.3 581.9h0M267.6 562.6h0M268.5 582.0h0M267.7 566.3h0M268.4 575.3h0M267.9 584.2h0M267.1 579.7h0M267.1 559.3h0M269.2 575.6h0M280.3 572.9h0M281.8 574.6h0M280.8 573.2h0M280.0 584.6h0M280.9 573.5h0M281.0 580.3h0M279.4 580.4h0M281.1 575.8h0M282.1 577.3h0M279.2 575.6h0M280.6 567.2h0M282.6 583.3h0M282.4 582.2h0M283.0 568.0h0M282.3 565.3h0M280.5 567.8h0M282.8 576.4h0M282.4 566.9h0M279.9 576.9h0M281.1 579.8h0M279.7 581.9h0M282.8 577.7h0M282.3 570.7h0M280.5 578.5h0M281.4 566.3h0M283.2 574.1h0M282.4 575.8h0M283.2 573.2h0M282.2 580.3h0M279.2 570.3h0M281.7 579.3h0M281.8 583.7h0M279.0 580.7h0M280.8 582.0h0M282.8 577.9h0M279.1 583.5h0M280.5 575.0h0M281.5 569.0h0M281.6 579.5h0M279.6 570.1h0M279.6 571.1h0M282.3 570.0h0M280.1 573.5h0M280.5 575.5h0M282.9 570.2h0M293.1 578.9h0M291.5 583.9h0M292.6 585.4h0M291.6 573.6h0M290.1 583.9h0M292.0 574.5h0M290.6 593.3h0M292.6 569.7h0M292.8 582.8h0M292.4 586.7h0M290.2 583.9h0M290.7 589.3h0M292.9 577.1h0M291.6 585.1h0M292.6 583.1h0M293.4 590.5h0M293.0 583.5h0M292.4 590.8h0M290.7 578.9h0M290.3 587.5h0M292.2 597.4h0M291.3 589.4h0M292.9 587.2h0M292.3 578.3h0M290.2 571.7h0M293.1 586.0h0M293.2 584.1h0M289.9 590.8h0M292.0 590.5h0M289.6 579.9h0M292.7 594.9h0M289.6 595.6h0M293.3 585.6h0M290.2 592.8h0M292.7 593.0h0M292.0 585.7h0M289.7 583.9h0M290.6 580.5h0M289.4 582.2h0M290.8 591.1h0M293.3 587.7h0M289.4 578.5h0M291.1 579.4h0M292.3 585.7h0M289.7 574.4h0M289.3 593.0h0M292.5 569.6h0M291.4 584.6h0M291.4 580.8h0M292.8 587.4h0M300.5 588.4h0M300.0 577.3h0M303.3 596.0h0M302.5 587.2h0M301.4 589.8h0M303.8 587.2h0M300.5 592.6h0M301.3 581.4h0M301.7 585.4h0M303.1 592.3h0M301.2 593.1h0M302.7 579.7h0M301.6 590.5h0M300.1 595.4h0M303.7 589.7h0M302.9 579.3h0M300.2 591.9h0M301.1 590.5h0M300.4 594.4h0M300.0 577.9h0M301.3 596.2h0M303.0 591.7h0M300.4 578.0h0M300.5 592.7h0M303.3 588.4h0M302.5 589.3h0M300.2 585.9h0M303.1 586.6h0M302.3 586.3h0M300.6 598.4h0M303.2 597.7h0M302.8 587.2h0M301.0 577.8h0M301.5 594.0h0M302.5 584.1h0M302.5 590.6h0M302.7 580.0h0M302.6 585.5h0M301.9 576.2h0M302.1 590.5h0M302.0 578.2h0M302.3 587.3h0M302.6 589.0h0M301.5 580.7h0M302.8 583.2h0M303.2 592.5h0M299.8 588.0h0M301.4 584.4h0M302.9 590.7h0M300.8 587.8h0M302.0 578.0h0M303.3 588.9h0M303.2 591.9h0M301.8 581.2h0M304.1 590.6h0M313.1 597.9h0M312.2 589.7h0M314.2 590.9h0M314.3 589.5h0M312.0 593.2h0M309.7 586.9h0M311.0 587.8h0M313.1 588.6h0M314.7 582.4h0M314.2 597.2h0M310.5 594.1h0M309.8 591.9h0M314.8 586.3h0M310.2 592.0h0M311.6 597.3h0M314.6 584.6h0M314.5 597.1h0M313.3 597.3h0M314.2 589.9h0M313.7 587.5h0M314.5 586.6h0M311.0 590.2h0M312.2 591.5h0M312.4 584.8h0M309.7 590.7h0M312.7 598.3h0M311.7 589.7h0M314.9 588.2h0M309.9 595.1h0M314.7 587.7h0M315.0 584.2h0M309.9 594.0h0M311.5 588.7h0M312.3 592.1h0M313.9 588.1h0M312.7 587.2h0M314.2 592.8h0M312.4 582.2h0M313.2 588.0h0M311.4 591.0h0M312.9 597.2h0M309.9 599.3h0M312.6 591.3h0M310.7 593.6h0M313.3 599.8h0M323.3 587.1h0M323.5 587.9h0M322.2 584.4h0M323.7 585.3h0M322.1 586.0h0M323.4 579.2h0M323.9 586.0h0M322.3 583.0h0M322.8 591.9h0M321.8 577.7h0M321.9 586.2h0M324.2 586.1h0M321.6 579.8h0M324.3 581.6h0M322.8 583.9h0M322.0 583.6h0M321.6 579.0h0M324.3 586.0h0M321.6 581.0h0M323.7 584.0h0M321.7 588.4h0M324.0 578.4h0M333.1 586.5h0M333.7 592.6h0M332.0 586.1h0M333.2 578.7h0M332.6 580.5h0M333.5 590.3h0M333.0 588.5h0M333.2 588.2h0M333.2 585.6h0M332.7 596.4h0M333.4 583.1h0M332.1 591.4h0M333.5 584.2h0M333.1 594.1h0M333.1 580.9h0M332.7 589.4h0M344.5 575.4h0M340.4 584.5h0M342.3 588.5h0M344.5 584.5h0M344.4 575.2h0M344.3 585.3h0M344.6 574.3h0M340.8 588.0h0M341.3 591.3h0M341.5 585.1h0M342.5 580.5h0M344.0 587.6h0M340.8 587.4h0M341.5 590.5h0M344.5 575.4h0M341.3 581.5h0M341.2 577.4h0M343.0 578.4h0M340.6 577.7h0M340.9 587.8h0M341.1 577.0h0M342.8 580.5h0M340.6 589.7h0M342.6 574.9h0M344.0 587.3h0M344.2 574.7h0M340.6 578.5h0M341.2 585.7h0M344.4 582.4h0M344.8 570.1h0M343.2 588.3h0M341.6 584.2h0M344.8 578.1h0M342.5 587.8h0M344.8 573.9h0M340.6 575.5h0M344.6 569.7h0M344.0 584.3h0M357.1 587.8h0M352.4 591.5h0M355.4 575.0h0M352.2 577.0h0M353.0 578.3h0M352.9 581.0h0M355.4 580.2h0M351.8 573.9h0M356.8 590.3h0M352.4 578.1h0M352.1 589.1h0M355.1 576.7h0M354.3 572.0h0M352.8 587.2h0M355.6 572.0h0M356.5 578.7h0M353.1 576.7h0M352.5 582.0h0M353.4 571.3h0M357.1 585.5h0M352.8 577.0h0M353.2 581.9h0M357.1 591.2h0M352.1 584.5h0M356.6 580.2h0M357.1 577.4h0M356.1 580.9h0M356.3 580.9h0M352.6 583.2h0M354.8 579.2h0M352.6 585.9h0M352.7 585.5h0M354.4 583.7h0M352.8 585.8h0M356.1 573.5h0M352.0 578.5h0M355.6 582.1h0M356.3 580.6h0M363.9 563.0h0M366.7 555.9h0M364.4 556.4h0M364.3 563.6h0M365.5 563.9h0M365.5 560.3h0M366.7 546.2h0M366.1 564.5h0M366.7 564.1h0M365.5 560.8h0M365.6 571.5h0M364.4 563.0h0M364.6 535.8h0M364.1 545.9h0M363.9 569.1h0M365.5 540.3h0M366.7 536.8h0M364.2 556.2h0M364.2 564.4h0M364.3 586.4h0M364.3 579.5h0M364.3 591.1h0M365.1 571.1h0M365.1 581.3h0M364.9 554.0h0M364.9 582.7h0M366.8 585.6h0M364.0 562.3h0M367.0 549.2h0M365.2 556.2h0M365.6 553.5h0M363.9 569.4h0M367.0 591.1h0M365.9 587.9h0M366.7 559.4h0M366.0 558.3h0M365.6 571.8h0M364.6 541.7h0M364.7 574.5h0M365.9 543.4h0M365.5 550.3h0M365.3 567.6h0M364.2 568.6h0M365.1 564.6h0M365.6 571.1h0M375.7 539.5h0M376.4 558.2h0M375.6 553.0h0M374.5 556.4h0M374.8 529.9h0M374.7 541.4h0M375.7 564.5h0M374.4 544.3h0M376.7 570.2h0M375.1 561.6h0M374.9 554.2h0M374.1 566.7h0M373.7 550.6h0M374.7 560.5h0M377.1 555.5h0M376.5 567.7h0M375.3 565.2h0M377.4 555.1h0M376.7 554.5h0M377.6 550.4h0M376.8 560.0h0M374.8 554.0h0M375.2 544.1h0M374.9 548.8h0M374.5 572.3h0M375.4 557.5h0M373.7 558.7h0M373.4 545.7h0M377.0 577.8h0M374.0 561.2h0M377.4 565.0h0M375.4 568.4h0M375.6 555.5h0M375.5 549.0h0M374.7 547.1h0M377.5 555.9h0M373.5 557.8h0M374.9 558.3h0M377.2 553.9h0M375.1 579.7h0M374.6 556.7h0M374.5 571.1h0M375.5 549.9h0M377.3 570.8h0M377.8 550.6h0M383.5 540.2h0M383.6 542.2h0M384.2 540.8h0M384.8 537.3h0M383.9 540.2h0M384.3 541.2h0M384.2 539.0h0M384.0 539.8h0M384.3 545.8h0M384.8 541.4h0M383.5 542.5h0M383.5 541.5h0M290.0 608.0h0M300.0 610.9h0M228.5 517.5h0M238.0 516.5h0" fill="none" stroke="#bdb9ec" stroke-width="1.9" stroke-linecap="round"/><path d="M387.0 541.8h0M387.6 544.8h0M386.6 537.2h0M386.3 540.2h0M386.2 541.2h0M386.7 537.8h0M386.1 541.3h0M387.9 541.9h0M386.5 545.0h0M386.6 545.4h0M386.6 573.8h0M387.0 563.1h0M386.8 562.8h0M386.6 566.7h0M387.6 564.9h0M386.3 569.5h0M395.9 550.4h0M396.4 574.3h0M396.1 568.7h0M396.0 568.5h0M395.7 562.1h0M396.6 563.3h0M395.6 549.8h0M395.8 550.8h0M396.2 571.1h0M395.6 561.2h0M397.2 557.2h0M397.2 553.8h0M396.2 561.0h0M397.1 558.0h0M395.8 553.4h0M397.0 558.3h0M396.3 555.1h0M396.8 558.4h0M395.9 556.6h0M395.5 564.6h0M407.3 571.4h0M407.1 570.8h0M406.1 574.2h0M406.5 573.6h0M406.8 581.0h0M407.8 565.2h0M406.6 571.0h0M407.4 570.6h0M406.8 579.1h0M406.5 570.6h0M407.3 581.0h0M407.5 563.0h0M406.1 580.2h0M406.4 573.4h0M406.6 566.4h0M417.9 582.2h0M416.3 581.1h0M416.5 575.8h0M417.9 567.3h0M415.7 578.4h0M415.7 582.5h0M416.2 583.3h0M415.8 571.0h0M417.6 567.1h0M415.8 572.1h0M418.1 583.0h0M417.8 573.1h0M415.7 572.2h0M417.0 561.8h0M417.7 581.3h0M427.2 573.5h0M426.8 584.3h0M426.8 584.5h0M426.6 582.0h0M426.4 578.4h0M426.2 573.5h0M426.8 592.9h0M426.4 582.3h0M426.9 578.6h0M427.4 587.8h0M426.1 583.2h0M426.7 589.9h0M425.9 578.3h0M425.8 582.9h0M426.1 578.9h0M436.2 584.2h0M436.4 587.4h0M435.9 591.1h0M436.1 595.0h0M437.4 583.9h0M436.4 578.5h0M438.4 589.0h0M438.4 582.6h0M436.6 587.1h0M436.0 592.6h0M436.7 583.3h0M438.4 582.7h0M448.5 589.2h0M446.7 583.6h0M446.9 577.3h0M448.7 577.4h0M445.6 585.6h0M448.7 594.4h0M449.2 581.5h0M446.0 579.6h0M448.2 580.4h0M447.2 568.5h0M445.6 571.7h0M448.3 587.1h0M448.5 574.6h0M448.0 579.0h0M446.8 586.8h0M458.4 574.6h0M457.0 581.6h0M457.1 575.6h0M456.4 572.9h0M458.7 588.8h0M458.8 585.9h0M456.4 582.4h0M457.0 588.4h0" fill="none" stroke="#bdb9ec" stroke-width="1.9" stroke-linecap="round"/><path d="M361.30 565.84 L365.00 572.87 L357.60 572.87Z" fill="#ff5a0a" stroke="#000" stroke-width="1.15" stroke-linejoin="miter"/><path d="M364.90 566.64 L368.60 573.67 L361.20 573.67Z" fill="#ff5a0a" stroke="#000" stroke-width="1.15" stroke-linejoin="miter"/><path d="M368.60 565.84 L372.30 572.87 L364.90 572.87Z" fill="#ff5a0a" stroke="#000" stroke-width="1.15" stroke-linejoin="miter"/><path d="M372.50 566.74 L376.20 573.77 L368.80 573.77Z" fill="#ff5a0a" stroke="#000" stroke-width="1.15" stroke-linejoin="miter"/><path d="M375.40 560.34 L379.10 567.37 L371.70 567.37Z" fill="#ff5a0a" stroke="#000" stroke-width="1.15" stroke-linejoin="miter"/><path d="M379.00 554.24 L382.70 561.27 L375.30 561.27Z" fill="#ff5a0a" stroke="#000" stroke-width="1.15" stroke-linejoin="miter"/><path d="M382.20 559.54 L385.90 566.57 L378.50 566.57Z" fill="#ff5a0a" stroke="#000" stroke-width="1.15" stroke-linejoin="miter"/><path d="M385.70 564.64 L389.40 571.67 L382.00 571.67Z" fill="#ff5a0a" stroke="#000" stroke-width="1.15" stroke-linejoin="miter"/><path d="M389.20 558.04 L392.90 565.07 L385.50 565.07Z" fill="#ff5a0a" stroke="#000" stroke-width="1.15" stroke-linejoin="miter"/><path d="M392.70 562.54 L396.40 569.57 L389.00 569.57Z" fill="#ff5a0a" stroke="#000" stroke-width="1.15" stroke-linejoin="miter"/><path d="M396.10 569.84 L399.80 576.87 L392.40 576.87Z" fill="#ff5a0a" stroke="#000" stroke-width="1.15" stroke-linejoin="miter"/><path d="M399.40 556.14 L403.10 563.17 L395.70 563.17Z" fill="#ff5a0a" stroke="#000" stroke-width="1.15" stroke-linejoin="miter"/><path d="M403.30 565.44 L407.00 572.47 L399.60 572.47Z" fill="#ff5a0a" stroke="#000" stroke-width="1.15" stroke-linejoin="miter"/><path d="M406.50 583.84 L410.20 590.87 L402.80 590.87Z" fill="#ff5a0a" stroke="#000" stroke-width="1.15" stroke-linejoin="miter"/><path d="M410.00 580.04 L413.70 587.07 L406.30 587.07Z" fill="#ff5a0a" stroke="#000" stroke-width="1.15" stroke-linejoin="miter"/><path d="M413.50 576.54 L417.20 583.57 L409.80 583.57Z" fill="#ff5a0a" stroke="#000" stroke-width="1.15" stroke-linejoin="miter"/><path d="M416.60 563.84 L420.30 570.87 L412.90 570.87Z" fill="#ff5a0a" stroke="#000" stroke-width="1.15" stroke-linejoin="miter"/><path d="M420.10 566.74 L423.80 573.77 L416.40 573.77Z" fill="#ff5a0a" stroke="#000" stroke-width="1.15" stroke-linejoin="miter"/><path d="M423.60 575.64 L427.30 582.67 L419.90 582.67Z" fill="#ff5a0a" stroke="#000" stroke-width="1.15" stroke-linejoin="miter"/><path d="M427.10 580.44 L430.80 587.47 L423.40 587.47Z" fill="#ff5a0a" stroke="#000" stroke-width="1.15" stroke-linejoin="miter"/><path d="M430.40 605.14 L434.10 612.17 L426.70 612.17Z" fill="#ff5a0a" stroke="#000" stroke-width="1.15" stroke-linejoin="miter"/><path d="M433.80 581.84 L437.50 588.87 L430.10 588.87Z" fill="#ff5a0a" stroke="#000" stroke-width="1.15" stroke-linejoin="miter"/><path d="M437.20 580.84 L440.90 587.87 L433.50 587.87Z" fill="#ff5a0a" stroke="#000" stroke-width="1.15" stroke-linejoin="miter"/><path d="M441.10 583.74 L444.80 590.77 L437.40 590.77Z" fill="#ff5a0a" stroke="#000" stroke-width="1.15" stroke-linejoin="miter"/><path d="M444.20 575.14 L447.90 582.17 L440.50 582.17Z" fill="#ff5a0a" stroke="#000" stroke-width="1.15" stroke-linejoin="miter"/><path d="M447.60 570.24 L451.30 577.27 L443.90 577.27Z" fill="#ff5a0a" stroke="#000" stroke-width="1.15" stroke-linejoin="miter"/><path d="M450.90 578.24 L454.60 585.27 L447.20 585.27Z" fill="#ff5a0a" stroke="#000" stroke-width="1.15" stroke-linejoin="miter"/><path d="M454.50 577.54 L458.20 584.57 L450.80 584.57Z" fill="#ff5a0a" stroke="#000" stroke-width="1.15" stroke-linejoin="miter"/><path d="M457.90 572.94 L461.60 579.97 L454.20 579.97Z" fill="#ff5a0a" stroke="#000" stroke-width="1.15" stroke-linejoin="miter"/><path d="M461.50 582.54 L465.20 589.57 L457.80 589.57Z" fill="#ff5a0a" stroke="#000" stroke-width="1.15" stroke-linejoin="miter"/><path d="M464.90 572.94 L468.60 579.97 L461.20 579.97Z" fill="#ff5a0a" stroke="#000" stroke-width="1.15" stroke-linejoin="miter"/><path d="M468.50 578.74 L472.20 585.77 L464.80 585.77Z" fill="#ff5a0a" stroke="#000" stroke-width="1.15" stroke-linejoin="miter"/><path d="M471.90 572.94 L475.60 579.97 L468.20 579.97Z" fill="#ff5a0a" stroke="#000" stroke-width="1.15" stroke-linejoin="miter"/><path d="M475.20 579.94 L478.90 586.97 L471.50 586.97Z" fill="#ff5a0a" stroke="#000" stroke-width="1.15" stroke-linejoin="miter"/><path d="M478.60 581.34 L482.30 588.37 L474.90 588.37Z" fill="#ff5a0a" stroke="#000" stroke-width="1.15" stroke-linejoin="miter"/><path d="M603.00 584.44 L606.70 591.47 L599.30 591.47Z" fill="#ff5a0a" stroke="#000" stroke-width="1.15" stroke-linejoin="miter"/><path d="M606.30 578.24 L610.00 585.27 L602.60 585.27Z" fill="#ff5a0a" stroke="#000" stroke-width="1.15" stroke-linejoin="miter"/><path d="M609.90 588.04 L613.60 595.07 L606.20 595.07Z" fill="#ff5a0a" stroke="#000" stroke-width="1.15" stroke-linejoin="miter"/><path d="M613.40 580.94 L617.10 587.97 L609.70 587.97Z" fill="#ff5a0a" stroke="#000" stroke-width="1.15" stroke-linejoin="miter"/><path d="M616.80 581.94 L620.50 588.97 L613.10 588.97Z" fill="#ff5a0a" stroke="#000" stroke-width="1.15" stroke-linejoin="miter"/><path d="M620.00 585.64 L623.70 592.67 L616.30 592.67Z" fill="#ff5a0a" stroke="#000" stroke-width="1.15" stroke-linejoin="miter"/><path d="M623.20 586.94 L626.90 593.97 L619.50 593.97Z" fill="#ff5a0a" stroke="#000" stroke-width="1.15" stroke-linejoin="miter"/><path d="M627.10 584.74 L630.80 591.77 L623.40 591.77Z" fill="#ff5a0a" stroke="#000" stroke-width="1.15" stroke-linejoin="miter"/><path d="M633.70 573.34 L637.40 580.37 L630.00 580.37Z" fill="#ff5a0a" stroke="#000" stroke-width="1.15" stroke-linejoin="miter"/><path d="M637.40 582.24 L641.10 589.27 L633.70 589.27Z" fill="#ff5a0a" stroke="#000" stroke-width="1.15" stroke-linejoin="miter"/><path d="M640.80 578.24 L644.50 585.27 L637.10 585.27Z" fill="#ff5a0a" stroke="#000" stroke-width="1.15" stroke-linejoin="miter"/><path d="M644.50 583.44 L648.20 590.47 L640.80 590.47Z" fill="#ff5a0a" stroke="#000" stroke-width="1.15" stroke-linejoin="miter"/><path d="M647.60 578.44 L651.30 585.47 L643.90 585.47Z" fill="#ff5a0a" stroke="#000" stroke-width="1.15" stroke-linejoin="miter"/><path d="M651.30 579.84 L655.00 586.87 L647.60 586.87Z" fill="#ff5a0a" stroke="#000" stroke-width="1.15" stroke-linejoin="miter"/><circle cx="81.90" cy="550.90" r="3.05" fill="#6f61e0" stroke="#000" stroke-width="1.0"/><circle cx="92.20" cy="580.70" r="3.05" fill="#6f61e0" stroke="#000" stroke-width="1.0"/><circle cx="102.50" cy="571.10" r="3.05" fill="#6f61e0" stroke="#000" stroke-width="1.0"/><circle cx="109.30" cy="584.80" r="3.05" fill="#6f61e0" stroke="#000" stroke-width="1.0"/><circle cx="112.90" cy="575.80" r="3.05" fill="#6f61e0" stroke="#000" stroke-width="1.0"/><circle cx="122.80" cy="570.90" r="3.05" fill="#6f61e0" stroke="#000" stroke-width="1.0"/><circle cx="126.60" cy="573.60" r="3.05" fill="#6f61e0" stroke="#000" stroke-width="1.0"/><circle cx="133.50" cy="579.70" r="3.05" fill="#6f61e0" stroke="#000" stroke-width="1.0"/><circle cx="143.50" cy="579.50" r="3.05" fill="#6f61e0" stroke="#000" stroke-width="1.0"/><circle cx="147.20" cy="582.60" r="3.05" fill="#6f61e0" stroke="#000" stroke-width="1.0"/><circle cx="154.00" cy="580.30" r="3.05" fill="#6f61e0" stroke="#000" stroke-width="1.0"/><circle cx="157.40" cy="583.70" r="3.05" fill="#6f61e0" stroke="#000" stroke-width="1.0"/><circle cx="161.10" cy="583.40" r="3.05" fill="#6f61e0" stroke="#000" stroke-width="1.0"/><circle cx="164.50" cy="579.30" r="3.05" fill="#6f61e0" stroke="#000" stroke-width="1.0"/><circle cx="167.90" cy="583.50" r="3.05" fill="#6f61e0" stroke="#000" stroke-width="1.0"/><circle cx="174.70" cy="572.30" r="3.05" fill="#6f61e0" stroke="#000" stroke-width="1.0"/><circle cx="178.40" cy="571.30" r="3.05" fill="#6f61e0" stroke="#000" stroke-width="1.0"/><circle cx="184.90" cy="571.80" r="3.05" fill="#6f61e0" stroke="#000" stroke-width="1.0"/><circle cx="188.40" cy="576.10" r="3.05" fill="#6f61e0" stroke="#000" stroke-width="1.0"/><circle cx="192.10" cy="570.80" r="3.05" fill="#6f61e0" stroke="#000" stroke-width="1.0"/><circle cx="195.50" cy="554.10" r="3.05" fill="#6f61e0" stroke="#000" stroke-width="1.0"/><circle cx="205.90" cy="552.70" r="3.05" fill="#6f61e0" stroke="#000" stroke-width="1.0"/><circle cx="209.10" cy="535.80" r="3.05" fill="#6f61e0" stroke="#000" stroke-width="1.0"/><circle cx="216.20" cy="547.90" r="3.05" fill="#6f61e0" stroke="#000" stroke-width="1.0"/><circle cx="226.40" cy="552.90" r="3.05" fill="#6f61e0" stroke="#000" stroke-width="1.0"/><circle cx="229.90" cy="545.70" r="3.05" fill="#6f61e0" stroke="#000" stroke-width="1.0"/><circle cx="236.90" cy="539.00" r="3.05" fill="#6f61e0" stroke="#000" stroke-width="1.0"/><circle cx="233.30" cy="557.00" r="3.05" fill="#6f61e0" stroke="#000" stroke-width="1.0"/><circle cx="240.20" cy="559.20" r="3.05" fill="#6f61e0" stroke="#000" stroke-width="1.0"/><circle cx="247.20" cy="560.50" r="3.05" fill="#6f61e0" stroke="#000" stroke-width="1.0"/><circle cx="250.70" cy="567.30" r="3.05" fill="#6f61e0" stroke="#000" stroke-width="1.0"/><circle cx="254.10" cy="557.30" r="3.05" fill="#6f61e0" stroke="#000" stroke-width="1.0"/><circle cx="257.40" cy="564.90" r="3.05" fill="#6f61e0" stroke="#000" stroke-width="1.0"/><circle cx="261.00" cy="567.90" r="3.05" fill="#6f61e0" stroke="#000" stroke-width="1.0"/><circle cx="264.40" cy="584.30" r="3.05" fill="#6f61e0" stroke="#000" stroke-width="1.0"/><circle cx="267.70" cy="575.90" r="3.05" fill="#6f61e0" stroke="#000" stroke-width="1.0"/><circle cx="271.30" cy="568.40" r="3.05" fill="#6f61e0" stroke="#000" stroke-width="1.0"/><circle cx="278.00" cy="578.10" r="3.05" fill="#6f61e0" stroke="#000" stroke-width="1.0"/><circle cx="281.60" cy="578.50" r="3.05" fill="#6f61e0" stroke="#000" stroke-width="1.0"/><circle cx="288.40" cy="582.20" r="3.05" fill="#6f61e0" stroke="#000" stroke-width="1.0"/><circle cx="292.10" cy="585.50" r="3.05" fill="#6f61e0" stroke="#000" stroke-width="1.0"/><circle cx="298.70" cy="591.20" r="3.05" fill="#6f61e0" stroke="#000" stroke-width="1.0"/><circle cx="301.90" cy="588.40" r="3.05" fill="#6f61e0" stroke="#000" stroke-width="1.0"/><circle cx="305.70" cy="587.00" r="3.05" fill="#6f61e0" stroke="#000" stroke-width="1.0"/><circle cx="309.00" cy="590.20" r="3.05" fill="#6f61e0" stroke="#000" stroke-width="1.0"/><circle cx="312.40" cy="591.60" r="3.05" fill="#6f61e0" stroke="#000" stroke-width="1.0"/><circle cx="316.00" cy="593.60" r="3.05" fill="#6f61e0" stroke="#000" stroke-width="1.0"/><circle cx="319.70" cy="599.10" r="3.05" fill="#6f61e0" stroke="#000" stroke-width="1.0"/><circle cx="322.90" cy="583.30" r="3.05" fill="#6f61e0" stroke="#000" stroke-width="1.0"/><circle cx="333.40" cy="586.50" r="3.05" fill="#6f61e0" stroke="#000" stroke-width="1.0"/><circle cx="340.00" cy="576.70" r="3.05" fill="#6f61e0" stroke="#000" stroke-width="1.0"/><circle cx="343.70" cy="579.20" r="3.05" fill="#6f61e0" stroke="#000" stroke-width="1.0"/><circle cx="350.50" cy="580.80" r="3.05" fill="#6f61e0" stroke="#000" stroke-width="1.0"/><circle cx="353.90" cy="579.70" r="3.05" fill="#6f61e0" stroke="#000" stroke-width="1.0"/><circle cx="357.60" cy="576.20" r="3.05" fill="#6f61e0" stroke="#000" stroke-width="1.0"/><circle cx="364.30" cy="569.20" r="3.05" fill="#6f61e0" stroke="#000" stroke-width="1.0"/><circle cx="367.90" cy="570.00" r="3.05" fill="#6f61e0" stroke="#000" stroke-width="1.0"/><circle cx="374.60" cy="564.30" r="3.05" fill="#6f61e0" stroke="#000" stroke-width="1.0"/><circle cx="378.20" cy="552.90" r="3.05" fill="#6f61e0" stroke="#000" stroke-width="1.0"/><circle cx="385.10" cy="541.30" r="3.05" fill="#6f61e0" stroke="#000" stroke-width="1.0"/><circle cx="405.70" cy="575.80" r="3.05" fill="#6f61e0" stroke="#000" stroke-width="1.0"/><circle cx="409.20" cy="568.50" r="3.05" fill="#6f61e0" stroke="#000" stroke-width="1.0"/><circle cx="481.70" cy="590.20" r="3.05" fill="#6f61e0" stroke="#000" stroke-width="1.0"/><circle cx="488.40" cy="591.20" r="3.05" fill="#6f61e0" stroke="#000" stroke-width="1.0"/><circle cx="491.80" cy="590.20" r="3.05" fill="#6f61e0" stroke="#000" stroke-width="1.0"/><circle cx="518.80" cy="592.30" r="3.05" fill="#6f61e0" stroke="#000" stroke-width="1.0"/><circle cx="522.50" cy="591.70" r="3.05" fill="#6f61e0" stroke="#000" stroke-width="1.0"/><circle cx="529.30" cy="591.20" r="3.05" fill="#6f61e0" stroke="#000" stroke-width="1.0"/><circle cx="532.90" cy="590.40" r="3.05" fill="#6f61e0" stroke="#000" stroke-width="1.0"/><circle cx="536.20" cy="590.80" r="3.05" fill="#6f61e0" stroke="#000" stroke-width="1.0"/><circle cx="539.40" cy="591.90" r="3.05" fill="#6f61e0" stroke="#000" stroke-width="1.0"/><circle cx="542.80" cy="591.60" r="3.05" fill="#6f61e0" stroke="#000" stroke-width="1.0"/><circle cx="546.70" cy="591.10" r="3.05" fill="#6f61e0" stroke="#000" stroke-width="1.0"/><circle cx="550.20" cy="591.40" r="3.05" fill="#6f61e0" stroke="#000" stroke-width="1.0"/><circle cx="554.00" cy="591.60" r="3.05" fill="#6f61e0" stroke="#000" stroke-width="1.0"/><circle cx="571.20" cy="591.10" r="3.05" fill="#6f61e0" stroke="#000" stroke-width="1.0"/><circle cx="585.00" cy="583.50" r="3.05" fill="#6f61e0" stroke="#000" stroke-width="1.0"/><circle cx="591.70" cy="587.10" r="3.05" fill="#6f61e0" stroke="#000" stroke-width="1.0"/><circle cx="595.40" cy="591.40" r="3.05" fill="#6f61e0" stroke="#000" stroke-width="1.0"/><circle cx="608.90" cy="586.00" r="3.05" fill="#6f61e0" stroke="#000" stroke-width="1.0"/><circle cx="612.60" cy="585.60" r="3.05" fill="#6f61e0" stroke="#000" stroke-width="1.0"/><circle cx="626.30" cy="584.40" r="3.05" fill="#6f61e0" stroke="#000" stroke-width="1.0"/><circle cx="636.70" cy="590.70" r="3.05" fill="#6f61e0" stroke="#000" stroke-width="1.0"/><circle cx="640.20" cy="584.40" r="3.05" fill="#6f61e0" stroke="#000" stroke-width="1.0"/><circle cx="643.70" cy="592.20" r="3.05" fill="#6f61e0" stroke="#000" stroke-width="1.0"/><circle cx="385.10" cy="559.90" r="3.05" fill="#6f61e0" stroke="#000" stroke-width="1.0"/><circle cx="388.50" cy="554.70" r="3.05" fill="#6f61e0" stroke="#000" stroke-width="1.0"/><circle cx="395.30" cy="563.90" r="3.05" fill="#6f61e0" stroke="#000" stroke-width="1.0"/><circle cx="399.10" cy="562.50" r="3.05" fill="#6f61e0" stroke="#000" stroke-width="1.0"/><circle cx="402.50" cy="580.20" r="3.05" fill="#6f61e0" stroke="#000" stroke-width="1.0"/><circle cx="406.90" cy="575.10" r="3.05" fill="#6f61e0" stroke="#000" stroke-width="1.0"/><circle cx="409.60" cy="575.40" r="3.05" fill="#6f61e0" stroke="#000" stroke-width="1.0"/><circle cx="416.30" cy="580.20" r="3.05" fill="#6f61e0" stroke="#000" stroke-width="1.0"/><circle cx="419.70" cy="573.70" r="3.05" fill="#6f61e0" stroke="#000" stroke-width="1.0"/><circle cx="426.40" cy="579.50" r="3.05" fill="#6f61e0" stroke="#000" stroke-width="1.0"/><circle cx="429.80" cy="576.40" r="3.05" fill="#6f61e0" stroke="#000" stroke-width="1.0"/><circle cx="436.80" cy="585.60" r="3.05" fill="#6f61e0" stroke="#000" stroke-width="1.0"/><circle cx="440.20" cy="590.30" r="3.05" fill="#6f61e0" stroke="#000" stroke-width="1.0"/><circle cx="447.10" cy="579.50" r="3.05" fill="#6f61e0" stroke="#000" stroke-width="1.0"/><circle cx="450.50" cy="589.20" r="3.05" fill="#6f61e0" stroke="#000" stroke-width="1.0"/><circle cx="457.50" cy="576.80" r="3.05" fill="#6f61e0" stroke="#000" stroke-width="1.0"/><line x1="65.40" y1="512.80" x2="65.40" y2="630.70" stroke="#808080" stroke-width="1.2"/><line x1="64.80" y1="630.70" x2="662.60" y2="630.70" stroke="#666" stroke-width="1.1"/><line x1="117.80" y1="630.70" x2="117.80" y2="629.10" stroke="#555" stroke-width="0.9"/><text x="117.80" y="646.40" font-size="12.8" text-anchor="middle" textLength="26.0" lengthAdjust="spacingAndGlyphs">1970</text><line x1="222.60" y1="630.70" x2="222.60" y2="629.10" stroke="#555" stroke-width="0.9"/><text x="222.60" y="646.40" font-size="12.8" text-anchor="middle" textLength="26.0" lengthAdjust="spacingAndGlyphs">1980</text><line x1="327.40" y1="630.70" x2="327.40" y2="629.10" stroke="#555" stroke-width="0.9"/><text x="327.40" y="646.40" font-size="12.8" text-anchor="middle" textLength="26.0" lengthAdjust="spacingAndGlyphs">1990</text><line x1="432.20" y1="630.70" x2="432.20" y2="629.10" stroke="#555" stroke-width="0.9"/><text x="432.20" y="646.40" font-size="12.8" text-anchor="middle" textLength="26.0" lengthAdjust="spacingAndGlyphs">2000</text><line x1="537.00" y1="630.70" x2="537.00" y2="629.10" stroke="#555" stroke-width="0.9"/><text x="537.00" y="646.40" font-size="12.8" text-anchor="middle" textLength="26.0" lengthAdjust="spacingAndGlyphs">2010</text><line x1="641.80" y1="630.70" x2="641.80" y2="629.10" stroke="#555" stroke-width="0.9"/><text x="641.80" y="646.40" font-size="12.8" text-anchor="middle" textLength="26.0" lengthAdjust="spacingAndGlyphs">2020</text><text x="364" y="662.90" font-size="15.9" text-anchor="middle" textLength="29.6" lengthAdjust="spacingAndGlyphs">Year</text><text x="116.8" y="614.0" font-size="16.8" textLength="75.3" lengthAdjust="spacingAndGlyphs">Combined</text><text x="0" y="0" font-size="15.2" text-anchor="middle" transform="translate(47.6 571.5) rotate(-90)" textLength="111.5" lengthAdjust="spacingAndGlyphs">Arbitrary Scaling</text><rect x="528.4" y="516.5" width="114.3" height="25.1" fill="#fff" stroke="#5a5a5a" stroke-width="0.95"/><path d="M555.4 522.1 L558.8 528.4 L552.0 528.4Z" fill="#ffa060"/><circle cx="555.40" cy="533.40" r="3.1" fill="#b6b3e6"/><text x="581.6" y="528.0" font-size="7.1" textLength="35.6" lengthAdjust="spacingAndGlyphs">Photometry</text><text x="581.6" y="536.5" font-size="7.1" textLength="47.6" lengthAdjust="spacingAndGlyphs">Ca II HK Activity</text></svg>
</body></html>
